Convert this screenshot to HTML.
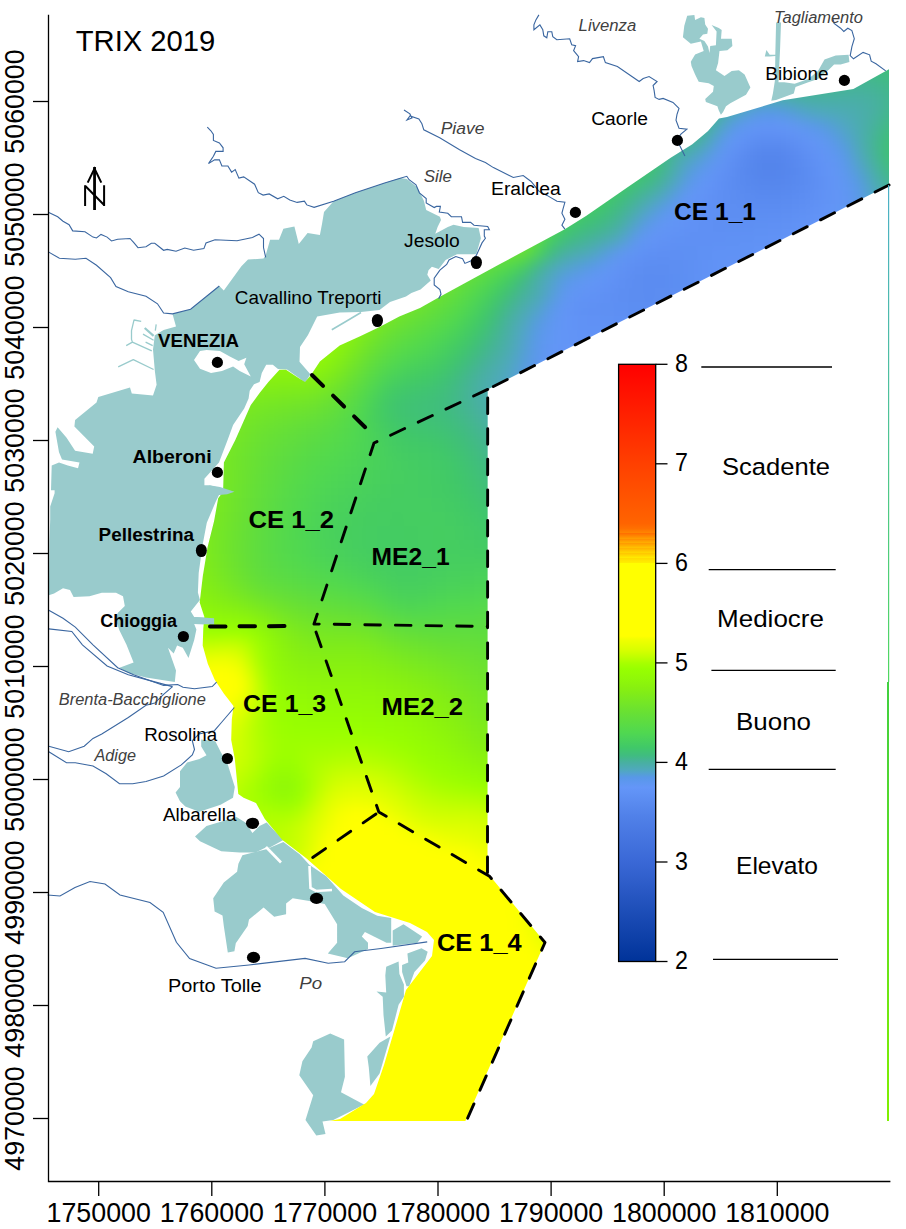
<!DOCTYPE html>
<html><head><meta charset="utf-8"><style>
html,body{margin:0;padding:0;background:#fff;}
body{width:906px;height:1229px;position:relative;overflow:hidden;font-family:"Liberation Sans",sans-serif;}
.L{position:absolute;left:0;top:0;}
svg text{font-family:"Liberation Sans",sans-serif;}
#seaclip{position:absolute;left:0;top:0;width:906px;height:1229px;clip-path:path('M311 375 L319.9 361.5 L339.7 345.6 L359.6 336.4 L379.5 327.1 L399.3 316.5 L420 307.9 L441.3 296 L500 264 L564.8 229.2 L586 216 L628.3 186.8 L670.7 157.7 L692 144.4 L707.8 131.2 L719 118.5 L727 116.9 L782.8 100.3 L853.4 89 L889 69.2 L889 185 L487.7 389.4 L487.5 873 L545 942.5 L465.4 1121 L330 1121 L340 1119 L366 1103 L374 1094 L384 1065 L395 1028 L406 990 L432 956 L434 940 L427 932 L410 923 L375 912 L341 889 L306 858 L282.4 840 L264.8 819 L256 803 L243.6 797.7 L238.3 794 L234.8 759 L231.2 740 L231.8 719.6 L233.5 705.9 L223.8 693.4 L214.7 679.7 L207.8 663.8 L202.7 645.6 L203.3 628.5 L204.4 617.1 L199.7 602.4 L202.8 576.3 L207.6 547 L214.1 521 L218.2 498.3 L223.1 491.8 L223.9 462.5 L235.3 440 L250.8 405.1 L259.6 393 L268.4 382 L279.5 369.8 L286 369.8 L299.3 378.6 L305 382 Z');}
#seaf{position:absolute;left:180px;top:50px;width:740px;height:1104px;filter:blur(7px);}
#seaf div{position:absolute;left:0;width:100%;}
</style></head><body>
<svg class="L" width="906" height="1229" viewBox="0 0 906 1229">
<g fill="#99cbcc">
<path fill-rule="evenodd" d="M172.5 314.1 L190.6 309.3 L219.3 286 L223.8 290.5 L241.4 266.2 L248 259.6 L263.5 258.5 L265.7 255.2 L270.1 239.7 L279 239.7 L283.4 228.7 L294.4 226.5 L298.8 244 L307.6 233 L319.9 235 L322 224 L324 212 L333.6 201.2 L355.4 192.7 L384.6 183 L400 178 L406.8 179.1 L417 187 L423.9 200.8 L426.2 209.9 L439.9 216.7 L441 220.1 L437.6 227 L435.3 233.8 L447.8 227 L453.5 224.7 L463.8 227 L478.6 228.1 L480.9 238.3 L476.3 254.3 L457 254.3 L445.6 260 L438.7 269.1 L431.9 266.8 L428.5 270.2 L427.3 274.8 L430.8 280.5 L420.5 289.6 L411.4 293 L406 296.6 L390 301.9 L379.5 309.9 L361 311.9 L339.7 312.5 L317.2 316.5 L308 335 L300 347 L299.5 361.8 L310.4 374.2 L305 382.7 L299 378 L287 369.5 L278 369 L272.8 364.8 L266.2 364.8 L261.8 373.1 L259.6 382 L254 384.2 L249.7 390.8 L248.6 398.5 L244.2 408.4 L233.1 425 L227.6 440 L219 462.5 L204.4 478.8 L204.4 485.3 L209.3 485.3 L234.5 491.8 L227.2 494.2 L219 495 L215.8 501.5 L206.8 522.7 L202.8 543.8 L198.7 573.1 L197.9 592.6 L199.9 600 L190.8 611.4 L194.2 617.1 L214.1 618.2 L214.1 624.5 L194.2 623.9 L196.4 629.6 L194.2 639.9 L188.5 658.1 L182.8 647.8 L177.1 645.6 L173.7 653.5 L168 647.8 L176 670.6 L174.8 682 L146 677.4 L128.3 673 L119.5 667.7 L133.6 662.4 L126.5 644.8 L119.5 630.6 L115.9 620 L117.7 613 L124.8 605.9 L123 596.2 L116 592.7 L101.8 592.7 L89.5 596.2 L73.6 597.1 L70 590 L63 588.3 L54.1 593.6 L48.8 595.3 L48.8 600 L49.5 540 L50.2 519.6 L50.2 506.4 L54.6 493.2 L54.6 490.3 L51 490.3 L51.7 465.4 L59 462.5 L67.8 465.4 L78 468.3 L79.5 462.5 L62 459.5 L59 452.2 L55.4 431.7 L57.6 427.3 L66.4 437.6 L75.1 450.7 L92.7 453.7 L94.2 446.4 L74.4 426.6 L75.1 420 L96.5 402.4 L98.3 397.1 L130 387.4 L131.8 393.6 L153 395.4 L156.6 384.8 L154.8 370.6 L153 349.4 L154.8 335.3 L163.6 330 L176 326.5 Z M200 351 L206.6 350 L219.9 351 L229.8 356.6 L238.6 361 L246.4 357.7 L244.2 364.3 L250.8 376.4 L239.7 371 L233.1 366.5 L222 371 L211 373.1 L200 368.7 L194 360 Z"/>
<path d="M201.2 739.4 L215.3 741.2 L220.6 751.8 L227.7 764.2 L234.8 787.1 L233 797.7 L220.6 804.8 L199.4 811.8 L185.3 806.5 L180 801.2 L175.6 792.4 L180 787.1 L180 771.2 L187.1 762.4 L199.4 758.9 L206.5 755.3 L201.2 746.5 Z"/><path d="M195 836.6 L206.5 826 L224.2 820.7 L236.5 817.1 L245.4 822.4 L252.4 833 L259.5 826 L266.6 822.4 L283.4 840 L268.9 848 L266.2 847.3 L255.6 852.6 L239.7 852.6 L221.2 851.3 L200 841.3 Z"/>
<path d="M242.4 855.2 L266.2 849.3 L283.4 842 L300 854.6 L309.3 864.7 L326.3 876.3 L343.3 895.6 L361.8 908 L377.3 915.7 L391.2 918 L391.2 942.7 L386.5 942.7 L364.9 931.9 L361.8 936.5 L368 942.7 L368 948.9 L347.9 958.2 L327.8 953.5 L337.1 942.7 L337.1 924.2 L324.7 904.1 L309.3 901 L292.7 898.3 L286.1 903.6 L286.1 914.2 L274.2 916.8 L263.6 907.5 L249 919.5 L247.7 926 L235.8 943.3 L234.4 951.3 L227.8 952.6 L223.8 926 L222.5 915.5 L214.6 911.5 L213.2 898.3 L223.8 882.4 L237.1 871.8 L238.4 863.8 Z"/><path d="M392.7 930.4 L403.5 924.2 L422.1 936.5 L417.4 942.7 L392.7 945.8 Z"/><path d="M407.4 953.5 L421.5 948.2 L427.7 951.8 L425 960.6 L414.4 972.1 L409.2 986.2 L406.5 986.2 L402.1 972.1 L402.1 965 L408.3 962.4 Z"/><path d="M386.2 966.8 L398.6 961.5 L399.4 973.9 L403.9 984.4 L403.9 996.8 L398.6 1004.8 L392 1030.4 L385.8 1036.5 L383.5 1015 L382.7 996.8 L376.5 991.5 L386.2 992.4 L385.3 975.6 Z"/><path d="M330.2 1033.4 L344.1 1039.6 L344.9 1076.7 L341 1092.2 L361.1 1103 L364.2 1104.5 L351.8 1110.7 L333.3 1120 L322.5 1121.5 L325.5 1133.9 L316.3 1135.4 L305.5 1120 L313.2 1095.3 L299.3 1075.2 L302.4 1061.3 L311.6 1047.4 L313.2 1041.2 Z"/><path d="M390.4 1036.5 L379.6 1073.6 L370.4 1086 L368.8 1067.4 L367.3 1056.6 L379.6 1042.7 Z"/>
<path d="M687.2 15.8 L694.4 15.1 L695.1 20.1 L700.9 17.2 L704.4 17.9 L705.2 24.4 L708 28.7 L707.3 33.7 L703 34.4 L699.4 38.7 L704.4 40.9 L708 46.6 L709.5 53.1 L710.2 45.9 L715.9 45.2 L716.6 31.6 L711.6 25.1 L718.8 28 L721.7 30.1 L721 38.7 L731.7 38.7 L732.4 45.9 L727.4 50.2 L719.5 50.9 L718.1 63.1 L715.9 70.3 L724.5 76 L731.7 71 L738.9 70.3 L744.6 74.6 L750.4 87.5 L746 94.7 L730.3 103.3 L726 106.2 L723.1 111.9 L720.9 114.8 L718.8 110.5 L717.4 106.2 L705.9 101.9 L705.2 99 L713 91.8 L713.8 86.1 L708.7 83.2 L698.7 81.8 L695.1 74.6 L691.5 66 L690.8 61.7 L695.1 54.5 L703.7 50.9 L700.9 41.6 L690.8 43.8 L682.9 37.3 L684.3 25.8 Z"/><path d="M776.1 22.6 L781 22.6 L780.1 48.3 L778.5 82.2 L784.2 82.2 L794.6 83.8 L808.3 79 L818 70.9 L824.5 59.6 L835.7 55.6 L848.6 54.8 L849.4 62 L840.6 64.5 L834.1 64.5 L829.3 69.3 L818 79 L808.3 82.2 L795.5 87 L793.8 93.5 L776.1 99.9 L771.3 100.7 L772.9 93.5 L775 80 L775.3 56 L769.7 56.4 L764.8 56.4 L766.4 50 L769.7 54.8 L775.3 54.8 Z"/>
</g>
<g fill="none" stroke="#99cbcc" stroke-width="1.3" stroke-linejoin="round"><path d="M134.1 319.6 L131.5 330.6 L131.5 339.4 L132.4 342.1 L151.8 350.9 M134.1 320 L141.2 321.3 M132.4 342.1 L126.2 345.6 M143 334.1 L153.6 340.3 M145.6 342.1 L152.7 345.6 M118.2 366.8 L133.3 359.7 L153.6 369.5 M156.2 324.4 L155.3 330.6"/><path d="M144.7 328 L153.6 335.9" stroke-width="2.2"/></g>
<g fill="none" stroke="#fff" stroke-width="2.6"><path d="M266 847 L281 862.5"/><path d="M0 0"/><path d="M309.5 866 L310.5 888 L316 891 L332 890"/></g>
</svg>
<div id="seaclip"><div id="seaf">
<div style="top:0px;height:15px;background:linear-gradient(90deg,#ffee00 7px,#fff400 21px,#fffa00 35px,#ffff00 49px,#ffff00 63px,#ffff00 77px,#ffff00 91px,#ffff00 105px,#ffff00 119px,#ffff00 133px,#ffff00 147px,#ffff00 161px,#ffff00 175px,#ffff00 189px,#ffff00 203px,#ffff00 217px,#ffff00 231px,#ffff00 245px,#ffff00 259px,#ffff00 273px,#ffff00 287px,#ffff00 301px,#ffff00 315px,#eeff00 329px,#deff00 343px,#caff00 357px,#b0ff00 371px,#9bff00 385px,#93fb05 399px,#8ef60a 413px,#87f011 427px,#7feb1a 441px,#77e723 455px,#6fe32c 469px,#67e035 483px,#61de3d 497px,#5adb44 511px,#54d94b 525px,#4fd752 539px,#4bd358 553px,#48d05d 567px,#45cd60 581px,#43cb63 595px,#42ca65 609px,#41c967 623px,#40c769 637px,#40c56e 651px,#40c372 665px,#40c275 679px,#40c175 693px,#40c274 707px,#40c46f 721px,#40c869 735px)"></div>
<div style="top:14px;height:15px;background:linear-gradient(90deg,#fff900 7px,#fffe00 21px,#ffff00 35px,#ffff00 49px,#ffff00 63px,#ffff00 77px,#ffff00 91px,#ffff00 105px,#ffff00 119px,#ffff00 133px,#ffff00 147px,#ffff00 161px,#ffff00 175px,#ffff00 189px,#ffff00 203px,#ffff00 217px,#ffff00 231px,#ffff00 245px,#ffff00 259px,#ffff00 273px,#ffff00 287px,#ffff00 301px,#f8ff00 315px,#e5ff00 329px,#d4ff00 343px,#bbff00 357px,#a2ff00 371px,#95fd03 385px,#8ff709 399px,#89f10f 413px,#81ec18 427px,#78e822 441px,#70e42b 455px,#68e035 469px,#60dd3d 483px,#59db45 497px,#53d94d 511px,#4dd555 525px,#48d05d 539px,#43cb63 553px,#40c869 567px,#40c56f 581px,#40c372 595px,#40c274 609px,#40c175 623px,#40c078 637px,#40be7b 651px,#40bc7f 665px,#41bb83 679px,#41bb83 693px,#40bd7e 707px,#40c078 721px,#40c470 735px)"></div>
<div style="top:28px;height:15px;background:linear-gradient(90deg,#ffff00 7px,#ffff00 21px,#ffff00 35px,#ffff00 49px,#ffff00 63px,#ffff00 77px,#ffff00 91px,#ffff00 105px,#ffff00 119px,#ffff00 133px,#ffff00 147px,#ffff00 161px,#ffff00 175px,#ffff00 189px,#ffff00 203px,#ffff00 217px,#ffff00 231px,#ffff00 245px,#ffff00 259px,#ffff00 273px,#ffff00 287px,#ffff00 301px,#edff00 315px,#ddff00 329px,#c7ff00 343px,#abff00 357px,#97ff01 371px,#92f906 385px,#8bf30d 399px,#83ee15 413px,#7ae920 427px,#71e52a 441px,#68e034 455px,#61de3d 469px,#59db45 483px,#52d94e 497px,#4bd357 511px,#45cd60 525px,#40c869 539px,#40c176 553px,#40bc81 567px,#43b88b 581px,#43b78e 595px,#43b78c 609px,#42b889 623px,#43b88a 637px,#44b78e 651px,#45b593 665px,#45b496 679px,#45b494 693px,#43b88c 707px,#40bd7e 721px,#40c274 735px)"></div>
<div style="top:42px;height:15px;background:linear-gradient(90deg,#ffff00 7px,#ffff00 21px,#ffff00 35px,#ffff00 49px,#ffff00 63px,#ffff00 77px,#ffff00 91px,#ffff00 105px,#ffff00 119px,#ffff00 133px,#ffff00 147px,#ffff00 161px,#ffff00 175px,#ffff00 189px,#ffff00 203px,#ffff00 217px,#ffff00 231px,#ffff00 245px,#ffff00 259px,#ffff00 273px,#ffff00 287px,#f7ff00 301px,#e5ff00 315px,#d2ff00 329px,#b8ff00 343px,#9fff00 357px,#94fb04 371px,#8df50b 385px,#86ef12 399px,#7cea1d 413px,#73e628 427px,#6ae132 441px,#61de3c 455px,#59db45 469px,#52d94e 483px,#4bd357 497px,#45cd61 511px,#40c56d 525px,#40bc80 539px,#46b398 553px,#4aaea9 567px,#4dabb3 581px,#4dabb4 595px,#4cacae 609px,#49afa6 623px,#49afa3 637px,#49afa4 651px,#49afa5 665px,#49afa5 679px,#48b0a1 693px,#45b495 707px,#40bc81 721px,#40c274 735px)"></div>
<div style="top:56px;height:15px;background:linear-gradient(90deg,#ffff00 7px,#ffff00 21px,#ffff00 35px,#ffff00 49px,#ffff00 63px,#ffff00 77px,#ffff00 91px,#ffff00 105px,#ffff00 119px,#ffff00 133px,#ffff00 147px,#ffff00 161px,#ffff00 175px,#ffff00 189px,#ffff00 203px,#ffff00 217px,#ffff00 231px,#ffff00 245px,#ffff00 259px,#ffff00 273px,#ffff00 287px,#ecff00 301px,#dcff00 315px,#c5ff00 329px,#a8ff00 343px,#97fe01 357px,#90f808 371px,#89f10f 385px,#7fec1a 399px,#76e725 413px,#6ce230 427px,#63de3a 441px,#5adb44 455px,#52d94e 469px,#4bd358 483px,#45cd61 497px,#40c66c 511px,#40bc80 525px,#48b0a2 539px,#4fa9bc 553px,#559fd8 567px,#5898e9 581px,#5998e9 595px,#569be0 609px,#52a3cc 623px,#50a8c0 637px,#4eaaba 651px,#4dabb4 665px,#4badad 679px,#49afa4 693px,#45b592 707px,#40bd7e 721px,#40c471 735px)"></div>
<div style="top:70px;height:15px;background:linear-gradient(90deg,#ffff00 7px,#ffff00 21px,#ffff00 35px,#ffff00 49px,#ffff00 63px,#ffff00 77px,#ffff00 91px,#ffff00 105px,#ffff00 119px,#ffff00 133px,#ffff00 147px,#ffff00 161px,#ffff00 175px,#ffff00 189px,#ffff00 203px,#ffff00 217px,#ffff00 231px,#ffff00 245px,#ffff00 259px,#ffff00 273px,#f4ff00 287px,#e4ff00 301px,#d2ff00 315px,#b7ff00 329px,#9dff00 343px,#93fb05 357px,#8cf40c 371px,#83ed16 385px,#78e822 399px,#6ee32d 413px,#65df38 427px,#5cdc42 441px,#53d94c 455px,#4bd357 469px,#44cc62 483px,#40c56e 497px,#40be7c 511px,#46b398 525px,#4fa9bd 539px,#5998ea 553px,#6196f5 567px,#6394f7 581px,#6294f6 595px,#6496f8 609px,#5f97f1 623px,#5998ea 637px,#559ed9 651px,#51a7c3 665px,#4cacb1 679px,#47b19d 693px,#41ba86 707px,#40c176 721px,#40c76b 735px)"></div>
<div style="top:84px;height:15px;background:linear-gradient(90deg,#ffff00 7px,#ffff00 21px,#ffff00 35px,#ffff00 49px,#ffff00 63px,#ffff00 77px,#ffff00 91px,#ffff00 105px,#ffff00 119px,#ffff00 133px,#ffff00 147px,#ffff00 161px,#ffff00 175px,#ffff00 189px,#ffff00 203px,#ffff00 217px,#ffff00 231px,#ffff00 245px,#ffff00 259px,#fbff00 273px,#eaff00 287px,#dbff00 301px,#c5ff00 315px,#a7ff00 329px,#96fd02 343px,#8ff709 357px,#87ef11 371px,#7cea1e 385px,#71e42a 399px,#67e035 413px,#5edd40 427px,#55da4a 441px,#4dd554 455px,#45cd60 469px,#40c371 483px,#42ba86 497px,#45b496 511px,#4cacae 525px,#579ae4 539px,#6496f8 553px,#5e90f4 567px,#5b8cf1 581px,#5a8bf0 595px,#5d8ef2 609px,#6192f5 623px,#6396f6 637px,#5c97ed 651px,#549fd6 665px,#4dabb5 679px,#46b397 693px,#40be7b 707px,#40c56e 721px,#41c967 735px)"></div>
<div style="top:98px;height:15px;background:linear-gradient(90deg,#ffff00 7px,#ffff00 21px,#ffff00 35px,#ffff00 49px,#ffff00 63px,#ffff00 77px,#ffff00 91px,#ffff00 105px,#ffff00 119px,#ffff00 133px,#ffff00 147px,#ffff00 161px,#ffff00 175px,#ffff00 189px,#ffff00 203px,#ffff00 217px,#ffff00 231px,#ffff00 245px,#ffff00 259px,#eeff00 273px,#e1ff00 287px,#cfff00 301px,#b6ff00 315px,#9cff00 329px,#92fa06 343px,#8af20e 357px,#80ec1a 371px,#74e627 385px,#69e033 399px,#5fdd3e 413px,#57da48 427px,#4fd752 441px,#48d05c 455px,#40c867 469px,#40bc81 483px,#4aaea6 497px,#4eaab8 511px,#559ed9 525px,#6097f3 539px,#5f90f4 553px,#598aef 567px,#5586ec 581px,#5485eb 595px,#5888ee 609px,#5c8df2 623px,#6192f5 637px,#6196f5 651px,#5998e9 665px,#50a8be 679px,#47b29b 693px,#40bf79 707px,#40c66c 721px,#41c966 735px)"></div>
<div style="top:112px;height:15px;background:linear-gradient(90deg,#ffff00 7px,#ffff00 21px,#ffff00 35px,#ffff00 49px,#ffff00 63px,#ffff00 77px,#ffff00 91px,#ffff00 105px,#ffff00 119px,#ffff00 133px,#ffff00 147px,#ffff00 161px,#ffff00 175px,#ffff00 189px,#ffff00 203px,#ffff00 217px,#ffff00 231px,#feff00 245px,#eeff00 259px,#e3ff00 273px,#d6ff00 287px,#c2ff00 301px,#a7ff00 315px,#96fd02 329px,#8ff709 343px,#85ee14 357px,#78e822 371px,#6be230 385px,#61de3d 399px,#57da47 413px,#4fd751 427px,#48d05b 441px,#42ca65 455px,#40c372 469px,#43b88b 483px,#4dabb4 497px,#559ddb 511px,#5e97f0 525px,#6293f6 539px,#5c8df1 553px,#5788ee 567px,#5484eb 581px,#5384eb 595px,#5686ed 609px,#5a8bf0 623px,#5e90f4 637px,#6395f7 651px,#5d97ef 665px,#53a1d1 679px,#4aaea9 693px,#42ba86 707px,#40c273 721px,#40c869 735px)"></div>
<div style="top:126px;height:15px;background:linear-gradient(90deg,#ffff00 7px,#ffff00 21px,#ffff00 35px,#ffff00 49px,#ffff00 63px,#ffff00 77px,#ffff00 91px,#ffff00 105px,#ffff00 119px,#ffff00 133px,#ffff00 147px,#ffff00 161px,#ffff00 175px,#ffff00 189px,#ffff00 203px,#ffff00 217px,#faff00 231px,#ecff00 245px,#e2ff00 259px,#d7ff00 273px,#c6ff00 287px,#b0ff00 301px,#9cff00 315px,#93fa05 329px,#8af20e 343px,#7eeb1c 357px,#6fe42c 371px,#62de3a 385px,#58db47 399px,#4fd752 413px,#48d05c 427px,#42ca66 441px,#40c275 455px,#42ba86 469px,#49afa2 483px,#52a4ca 497px,#5c97ee 511px,#6395f8 525px,#5f90f4 539px,#5b8cf1 553px,#5889ee 567px,#5687ed 581px,#5686ec 595px,#5788ee 609px,#5a8bf0 623px,#5e8ff3 637px,#6294f6 651px,#6097f3 665px,#5799e5 679px,#4eaab9 693px,#47b29a 707px,#40bd7e 721px,#40c471 735px)"></div>
<div style="top:140px;height:15px;background:linear-gradient(90deg,#ffff00 7px,#ffff00 21px,#ffff00 35px,#ffff00 49px,#ffff00 63px,#ffff00 77px,#ffff00 91px,#ffff00 105px,#ffff00 119px,#ffff00 133px,#ffff00 147px,#ffff00 161px,#ffff00 175px,#ffff00 189px,#ffff00 203px,#f3ff00 217px,#e8ff00 231px,#deff00 245px,#d2ff00 259px,#c3ff00 273px,#b1ff00 287px,#a0ff00 301px,#96fd02 315px,#8ff709 329px,#85ef13 343px,#76e724 357px,#66df36 371px,#59db46 385px,#4ed653 399px,#47cf5e 413px,#41c967 427px,#40c077 441px,#44b68f 455px,#4aaeaa 469px,#51a6c5 483px,#5a98eb 497px,#6496f8 511px,#6192f5 525px,#5e8ff3 539px,#5c8df1 553px,#5a8bf0 567px,#598af0 581px,#598aef 595px,#5a8bf0 609px,#5c8df2 623px,#5f90f4 637px,#6294f6 651px,#6296f5 665px,#5a98ea 679px,#51a6c6 693px,#4aaea8 707px,#43b78d 721px,#40bf79 735px)"></div>
<div style="top:154px;height:15px;background:linear-gradient(90deg,#ffff00 7px,#ffff00 21px,#ffff00 35px,#ffff00 49px,#ffff00 63px,#ffff00 77px,#ffff00 91px,#ffff00 105px,#ffff00 119px,#ffff00 133px,#ffff00 147px,#ffff00 161px,#ffff00 175px,#faff00 189px,#ecff00 203px,#e2ff00 217px,#d8ff00 231px,#c9ff00 245px,#b9ff00 259px,#a8ff00 273px,#9dff00 287px,#96fd02 301px,#91f907 315px,#8bf30d 329px,#7fec1a 343px,#6ee32d 357px,#5cdc42 371px,#4ed653 385px,#45cd60 399px,#40c76a 413px,#40c078 427px,#43b78d 441px,#4badac 455px,#53a3cd 469px,#5a98eb 483px,#6296f5 497px,#6193f6 511px,#5f91f4 525px,#5d8ff3 539px,#5d8ef2 553px,#5c8df2 567px,#5c8df2 581px,#5c8df2 595px,#5d8ef2 609px,#5f90f4 623px,#6192f5 637px,#6395f7 651px,#6097f3 665px,#5a98ea 679px,#53a3cd 693px,#4cacb0 707px,#46b398 721px,#40bc81 735px)"></div>
<div style="top:168px;height:15px;background:linear-gradient(90deg,#ffff00 7px,#ffff00 21px,#ffff00 35px,#ffff00 49px,#ffff00 63px,#ffff00 77px,#ffff00 91px,#ffff00 105px,#ffff00 119px,#ffff00 133px,#ffff00 147px,#ffff00 161px,#f3ff00 175px,#e7ff00 189px,#ddff00 203px,#cfff00 217px,#bfff00 231px,#acff00 245px,#9fff00 259px,#96fe02 273px,#93fb05 287px,#90f808 301px,#8cf40c 315px,#86ef12 329px,#7ae920 343px,#66df37 357px,#51d84f 371px,#43cb63 385px,#40c372 399px,#40bd7e 413px,#43b78d 427px,#49afa4 441px,#52a3cc 455px,#5c97ed 469px,#6396f6 483px,#6294f6 497px,#6091f5 511px,#5f90f4 525px,#5e8ff3 539px,#5e8ff3 553px,#5e8ff3 567px,#5e90f3 581px,#5f90f4 595px,#6091f4 609px,#6193f6 623px,#6394f7 637px,#6396f7 651px,#5f97f1 665px,#5998e9 679px,#53a2ce 693px,#4dabb4 707px,#48b09f 721px,#42b889 735px)"></div>
<div style="top:182px;height:15px;background:linear-gradient(90deg,#ffff00 7px,#ffff00 21px,#ffff00 35px,#ffff00 49px,#ffff00 63px,#ffff00 77px,#ffff00 91px,#ffff00 105px,#ffff00 119px,#ffff00 133px,#fcff00 147px,#eeff00 161px,#e3ff00 175px,#d7ff00 189px,#c6ff00 203px,#b3ff00 217px,#a2ff00 231px,#97fe01 245px,#93fb05 259px,#8ff709 273px,#8bf30d 287px,#86ef12 301px,#81ed18 315px,#7dea1d 329px,#74e627 343px,#5cdc42 357px,#45cd60 371px,#40bf7b 385px,#43b88c 399px,#47b19d 413px,#4badac 427px,#51a6c5 441px,#5d97ee 455px,#6395f7 469px,#6192f5 483px,#5f91f4 497px,#5f90f4 511px,#5f90f4 525px,#5f90f4 539px,#5f91f4 553px,#5f91f4 567px,#6092f5 581px,#6192f5 595px,#6293f6 609px,#6395f7 623px,#6396f7 637px,#6097f3 651px,#5c97ee 665px,#5899e6 679px,#53a3cd 693px,#4dabb6 707px,#49afa3 721px,#44b690 735px)"></div>
<div style="top:196px;height:15px;background:linear-gradient(90deg,#ffff00 7px,#ffff00 21px,#ffff00 35px,#ffff00 49px,#ffff00 63px,#ffff00 77px,#ffff00 91px,#ffff00 105px,#ffff00 119px,#f7ff00 133px,#eaff00 147px,#dfff00 161px,#d1ff00 175px,#bfff00 189px,#aaff00 203px,#9bff00 217px,#94fc04 231px,#90f808 245px,#8bf30d 259px,#85ee14 273px,#7deb1c 287px,#76e724 301px,#6fe42c 315px,#6ae132 329px,#68e034 343px,#4dd554 357px,#40bc81 371px,#49afa3 385px,#4cacb0 399px,#50a8bf 413px,#569cde 427px,#6097f2 441px,#6193f6 455px,#5e90f4 469px,#5e8ff3 483px,#5e8ff3 497px,#5e90f3 511px,#5f91f4 525px,#6092f5 539px,#6092f5 553px,#6193f6 567px,#6293f6 581px,#6294f7 595px,#6395f7 609px,#6396f7 623px,#6197f4 637px,#5e97f0 651px,#5a98eb 665px,#569be0 679px,#52a4c9 693px,#4dabb6 707px,#49afa5 721px,#45b594 735px)"></div>
<div style="top:210px;height:15px;background:linear-gradient(90deg,#ffff00 7px,#ffff00 21px,#ffff00 35px,#ffff00 49px,#ffff00 63px,#ffff00 77px,#ffff00 91px,#fbff00 105px,#f0ff00 119px,#e7ff00 133px,#ddff00 147px,#ceff00 161px,#baff00 175px,#a4ff00 189px,#97fe01 203px,#92fa06 217px,#8df50b 231px,#88f010 245px,#80ec19 259px,#78e822 273px,#6fe32d 287px,#65df37 301px,#5cdc42 315px,#52d94e 329px,#47cf5d 343px,#43b88c 357px,#4cacb2 371px,#52a5c9 385px,#559ed9 399px,#5998ea 413px,#6197f4 427px,#6192f5 441px,#5d8ef2 455px,#5c8df1 469px,#5c8df1 483px,#5d8ef2 497px,#5e90f3 511px,#6091f5 525px,#6193f6 539px,#6293f6 553px,#6294f7 567px,#6395f7 581px,#6496f8 595px,#6396f6 609px,#6197f4 623px,#5f97f1 637px,#5c97ed 651px,#5998e9 665px,#559ed9 679px,#51a6c5 693px,#4dabb5 707px,#4aaea6 721px,#46b397 735px)"></div>
<div style="top:224px;height:15px;background:linear-gradient(90deg,#ffff00 7px,#ffff00 21px,#ffff00 35px,#ffff00 49px,#feff00 63px,#f8ff00 77px,#f0ff00 91px,#ebff00 105px,#e4ff00 119px,#daff00 133px,#ccff00 147px,#b7ff00 161px,#a2ff00 175px,#96fd02 189px,#91f907 203px,#8bf30d 217px,#85ee14 231px,#7dea1d 245px,#74e626 259px,#6be230 273px,#61de3c 287px,#57da48 301px,#4dd555 315px,#42ca65 329px,#41ba84 343px,#4badac 357px,#51a5c7 371px,#5998ea 385px,#5f97f1 399px,#6396f7 413px,#6193f6 427px,#5e8ff3 441px,#5c8df1 455px,#5b8cf1 469px,#5b8cf1 483px,#5c8ef2 497px,#5e90f3 511px,#6092f5 525px,#6293f6 539px,#6294f7 553px,#6395f7 567px,#6496f8 581px,#6296f6 595px,#6197f4 609px,#5f97f1 623px,#5d97ee 637px,#5a98eb 651px,#579ae3 665px,#54a0d3 679px,#50a7c1 693px,#4dabb4 707px,#4aaea6 721px,#46b398 735px)"></div>
<div style="top:238px;height:15px;background:linear-gradient(90deg,#ffff00 7px,#fbff00 21px,#f4ff00 35px,#eeff00 49px,#ebff00 63px,#e7ff00 77px,#e3ff00 91px,#deff00 105px,#d7ff00 119px,#caff00 133px,#b8ff00 147px,#a2ff00 161px,#96fd02 175px,#90f808 189px,#8af20e 203px,#82ed17 217px,#7ae920 231px,#72e529 245px,#6ae132 259px,#61de3c 273px,#57da48 287px,#4dd555 301px,#43cb64 315px,#40be7b 329px,#47b29c 343px,#4cacb0 357px,#54a0d5 371px,#6097f3 385px,#6294f6 399px,#6092f5 413px,#5f90f4 427px,#5d8ef2 441px,#5c8df1 455px,#5b8cf1 469px,#5c8df1 483px,#5d8ef2 497px,#5e90f4 511px,#6092f5 525px,#6294f6 539px,#6395f7 553px,#6496f8 567px,#6296f6 581px,#6197f4 595px,#5f97f1 609px,#5d97ef 623px,#5b98ec 637px,#5898e8 651px,#569ddc 665px,#53a3cd 679px,#50a8be 693px,#4dabb2 707px,#4aaea6 721px,#46b399 735px)"></div>
<div style="top:252px;height:15px;background:linear-gradient(90deg,#edff00 7px,#e8ff00 21px,#e3ff00 35px,#dfff00 49px,#dcff00 63px,#d8ff00 77px,#d4ff00 91px,#ceff00 105px,#c5ff00 119px,#b7ff00 133px,#a4ff00 147px,#96fe02 161px,#90f808 175px,#89f10f 189px,#80ec19 203px,#77e723 217px,#6fe32c 231px,#68e035 245px,#60dd3d 259px,#58db46 273px,#4fd752 287px,#46ce60 301px,#40c273 315px,#45b593 329px,#4cacae 343px,#51a5c7 357px,#5a98eb 371px,#6395f7 385px,#5f91f4 399px,#5f90f4 413px,#5e90f3 427px,#5d8ff3 441px,#5c8ef2 455px,#5c8df2 469px,#5c8ef2 483px,#5e8ff3 497px,#5f91f4 511px,#6192f5 525px,#6294f6 539px,#6395f7 553px,#6396f7 567px,#6196f4 581px,#5f97f2 595px,#5e97ef 609px,#5b97ed 623px,#5998ea 637px,#579ae3 651px,#549fd6 665px,#52a5c8 679px,#4fa9bb 693px,#4cacb0 707px,#49afa5 721px,#46b299 735px)"></div>
<div style="top:266px;height:15px;background:linear-gradient(90deg,#dfff00 7px,#d9ff00 21px,#d2ff00 35px,#cbff00 49px,#c7ff00 63px,#c2ff00 77px,#bfff00 91px,#baff00 105px,#b2ff00 119px,#a5ff00 133px,#98ff00 147px,#92fa06 161px,#8af20e 175px,#80ec19 189px,#75e626 203px,#6ce230 217px,#65df38 231px,#5edd3f 245px,#58db47 259px,#50d850 273px,#48d05c 287px,#40c869 301px,#40bb82 315px,#49afa4 329px,#4fa9bd 343px,#569be0 357px,#5f97f1 371px,#6395f7 385px,#6092f5 399px,#6091f5 413px,#6091f4 427px,#5f90f4 441px,#5e8ff3 455px,#5d8ff3 469px,#5e8ff3 483px,#5f90f4 497px,#6091f5 511px,#6193f6 525px,#6394f7 539px,#6496f8 553px,#6296f6 567px,#6097f3 581px,#5e97f0 595px,#5c97ee 609px,#5a98eb 623px,#5898e8 637px,#569ddc 651px,#53a2d0 665px,#51a7c3 679px,#4eaab9 693px,#4cacaf 707px,#49afa4 721px,#46b399 735px)"></div>
<div style="top:280px;height:15px;background:linear-gradient(90deg,#ccff00 7px,#c3ff00 21px,#baff00 35px,#b1ff00 49px,#abff00 63px,#a7ff00 77px,#a5ff00 91px,#a3ff00 105px,#a0ff00 119px,#98ff00 133px,#94fb04 147px,#8df50b 161px,#83ed16 175px,#76e724 189px,#6ae132 203px,#62de3c 217px,#5bdc43 231px,#55da4a 245px,#4fd751 259px,#49d15a 273px,#42ca65 287px,#40c177 301px,#44b690 315px,#4badab 329px,#52a5c8 343px,#5998ea 357px,#6197f4 371px,#6395f7 385px,#6193f6 399px,#6193f6 413px,#6193f5 427px,#6092f5 441px,#5f91f4 455px,#5f90f4 469px,#5f91f4 483px,#6091f5 497px,#6192f5 511px,#6294f6 525px,#6395f7 539px,#6396f7 553px,#6196f4 567px,#5f97f1 581px,#5d97ef 595px,#5b98ec 609px,#5998e9 623px,#579be2 637px,#559fd7 651px,#52a4cb 665px,#50a8bf 679px,#4dabb6 693px,#4badad 707px,#49afa3 721px,#46b399 735px)"></div>
<div style="top:294px;height:15px;background:linear-gradient(90deg,#b6ff00 7px,#a9ff00 21px,#a1ff00 35px,#9bff00 49px,#97ff01 63px,#97fe01 77px,#96fd02 91px,#96fd02 105px,#96fd02 119px,#94fb04 133px,#90f808 147px,#88f010 161px,#7ae920 175px,#6ce22f 189px,#61de3d 203px,#58db47 217px,#52d94d 231px,#4ed653 245px,#49d15b 259px,#43cb64 273px,#40c372 287px,#41ba85 301px,#47b19d 315px,#4cacb1 329px,#53a1d1 343px,#5c97ed 357px,#6296f5 371px,#6395f7 385px,#6294f6 399px,#6294f6 413px,#6193f6 427px,#6193f6 441px,#6092f5 455px,#6092f5 469px,#6092f5 483px,#6193f6 497px,#6294f6 511px,#6395f7 525px,#6496f8 539px,#6296f5 553px,#6097f3 567px,#5e97f0 581px,#5c97ed 595px,#5a98ea 609px,#5899e6 623px,#569ddc 637px,#53a1d1 651px,#51a6c6 665px,#4fa9bc 679px,#4dabb3 693px,#4badaa 707px,#48b0a2 721px,#46b398 735px)"></div>
<div style="top:308px;height:15px;background:linear-gradient(90deg,#a2ff00 7px,#98ff00 21px,#95fd03 35px,#93fb05 49px,#91f907 63px,#90f808 77px,#8ff709 91px,#8ff709 105px,#8ff709 119px,#8ff709 133px,#8af20e 147px,#7feb1b 161px,#70e42b 175px,#62de3b 189px,#57da48 203px,#4fd752 217px,#4ad259 231px,#47cf5d 245px,#43cb63 259px,#40c46f 273px,#40bc80 287px,#46b397 301px,#4badaa 315px,#4fa9bd 329px,#569ddc 343px,#5d97ee 357px,#6296f5 371px,#6496f8 385px,#6395f7 399px,#6294f7 413px,#6294f6 427px,#6294f6 441px,#6293f6 455px,#6293f6 469px,#6293f6 483px,#6294f7 497px,#6395f7 511px,#6496f8 525px,#6296f6 539px,#6197f3 553px,#5f97f1 567px,#5d97ee 581px,#5b98eb 595px,#5898e9 609px,#569be0 623px,#549fd6 637px,#52a3cc 651px,#50a8c1 665px,#4eaab9 679px,#4cacb1 693px,#4aaea8 707px,#48b0a0 721px,#46b496 735px)"></div>
<div style="top:322px;height:15px;background:linear-gradient(90deg,#97fe01 7px,#93fb05 21px,#90f808 35px,#8df50b 49px,#8bf30d 63px,#89f10f 77px,#88f010 91px,#87f011 105px,#87f011 119px,#85ef13 133px,#7feb1a 147px,#74e627 161px,#66df37 175px,#58db46 189px,#4dd554 203px,#47cf5e 217px,#43cb63 231px,#41c967 245px,#40c56f 259px,#40be7c 273px,#44b690 287px,#49afa5 301px,#4dabb4 315px,#51a6c6 329px,#579be1 343px,#5c97ed 357px,#6097f3 371px,#6396f7 385px,#6496f8 399px,#6395f7 413px,#6395f7 427px,#6395f7 441px,#6395f7 455px,#6395f7 469px,#6395f7 483px,#6395f8 497px,#6496f8 511px,#6296f6 525px,#6197f4 539px,#5f97f1 553px,#5d97ef 567px,#5b97ec 581px,#5998ea 595px,#579ae4 609px,#559dda 623px,#53a1d0 637px,#51a6c6 651px,#4fa9bd 665px,#4dabb5 679px,#4badae 693px,#49afa6 707px,#47b19e 721px,#45b495 735px)"></div>
<div style="top:336px;height:15px;background:linear-gradient(90deg,#93fa05 7px,#8ff709 21px,#8bf30d 35px,#87ef11 49px,#82ed16 63px,#7fec1a 77px,#7eeb1c 91px,#7cea1d 105px,#7bea1f 119px,#78e822 133px,#72e529 147px,#68e034 161px,#5cdc41 175px,#50d850 189px,#46ce60 203px,#40c869 217px,#40c56f 231px,#40c373 245px,#40c079 259px,#41bb84 273px,#45b496 287px,#4aaea7 301px,#4dabb6 315px,#51a5c7 329px,#569cde 343px,#5a98eb 357px,#5e97f0 371px,#6197f4 385px,#6296f6 399px,#6396f7 413px,#6496f8 427px,#6496f8 441px,#6496f8 455px,#6496f8 469px,#6496f7 483px,#6396f6 497px,#6296f5 511px,#6097f3 525px,#5f97f1 539px,#5d97ef 553px,#5b97ed 567px,#5a98ea 581px,#5899e6 595px,#569cdd 609px,#54a0d4 623px,#52a4ca 637px,#50a8c1 651px,#4eaab9 665px,#4dabb2 679px,#4badab 693px,#49afa3 707px,#47b29b 721px,#45b593 735px)"></div>
<div style="top:350px;height:15px;background:linear-gradient(90deg,#8ff709 7px,#8bf30d 21px,#86ef12 35px,#80ec19 49px,#7be91f 63px,#77e823 77px,#74e626 91px,#72e528 105px,#70e42b 119px,#6de22f 133px,#67e035 147px,#60dd3e 161px,#56da49 175px,#4bd357 189px,#42ca65 203px,#40c470 217px,#40c175 231px,#40c078 245px,#40be7c 259px,#41ba85 273px,#45b593 287px,#49afa3 301px,#4cacb1 315px,#50a8c0 329px,#549fd5 343px,#5898e8 357px,#5c97ed 371px,#5e97f0 385px,#6097f2 399px,#6197f4 413px,#6196f5 427px,#6296f5 441px,#6296f5 455px,#6296f5 469px,#6196f4 483px,#6097f3 497px,#5f97f2 511px,#5e97f0 525px,#5d97ee 539px,#5b97ec 553px,#5a98ea 567px,#5898e7 581px,#569cdf 595px,#549fd6 609px,#53a3cd 623px,#51a6c4 637px,#4fa9bc 651px,#4dabb6 665px,#4cacaf 679px,#4aaea8 693px,#48b0a1 707px,#46b399 721px,#44b691 735px)"></div>
<div style="top:364px;height:15px;background:linear-gradient(90deg,#8cf40c 7px,#88f010 21px,#81ed17 35px,#7bea1f 49px,#75e725 63px,#71e42a 77px,#6de32e 91px,#6ae132 105px,#67e035 119px,#64df39 133px,#5fdd3e 147px,#59db45 161px,#52d94e 175px,#4ad258 189px,#43cb63 203px,#40c66c 217px,#40c372 231px,#40c275 245px,#40c078 259px,#40bd7f 273px,#43b88b 287px,#47b29a 301px,#4aaea9 315px,#4eaab8 329px,#52a4c9 343px,#559ddb 357px,#5898e9 371px,#5b98ec 385px,#5d97ee 399px,#5e97f0 413px,#5f97f1 427px,#5f97f1 441px,#5f97f1 455px,#5f97f1 469px,#5e97f1 483px,#5e97f0 497px,#5d97ef 511px,#5c97ed 525px,#5b98eb 539px,#5998ea 553px,#5899e6 567px,#569cdf 581px,#559fd7 595px,#53a2ce 609px,#51a6c6 623px,#50a8be 637px,#4eaab8 651px,#4cacb1 665px,#4badab 679px,#49afa4 693px,#47b19e 707px,#45b496 721px,#44b78e 735px)"></div>
<div style="top:378px;height:15px;background:linear-gradient(90deg,#8af20e 7px,#85ee14 21px,#7eeb1b 35px,#78e822 49px,#72e529 63px,#6ce22f 77px,#68e034 91px,#64df39 105px,#60dd3d 119px,#5ddc41 133px,#59db45 147px,#55da4a 161px,#50d850 175px,#4bd357 189px,#46ce5f 203px,#42ca65 217px,#40c769 231px,#40c66d 245px,#40c471 259px,#40c077 273px,#40bc80 287px,#44b690 301px,#48b0a0 315px,#4cacaf 329px,#4fa9bc 343px,#52a3cc 357px,#559dda 371px,#5899e6 385px,#5998ea 399px,#5b98ec 413px,#5b97ed 427px,#5c97ed 441px,#5c97ed 455px,#5c97ed 469px,#5c97ed 483px,#5b97ec 497px,#5a98eb 511px,#5998ea 525px,#5898e8 539px,#579ae3 553px,#569ddd 567px,#549fd6 581px,#53a2ce 595px,#51a5c6 609px,#50a8bf 623px,#4eaab9 637px,#4dabb3 651px,#4badad 665px,#4aaea7 679px,#48b0a1 693px,#46b29a 707px,#45b593 721px,#43b88c 735px)"></div>
<div style="top:392px;height:15px;background:linear-gradient(90deg,#89f10f 7px,#83ed16 21px,#7cea1d 35px,#75e725 49px,#6fe42c 63px,#69e133 77px,#64df39 91px,#60dd3e 105px,#5cdc42 119px,#58db46 133px,#55da4a 147px,#52d94e 161px,#4fd752 175px,#4bd357 189px,#48d05d 203px,#44cc62 217px,#42ca65 231px,#41c966 245px,#40c868 259px,#40c470 273px,#40bf79 287px,#41ba86 301px,#46b496 315px,#49afa5 329px,#4cacb2 343px,#4fa9bd 357px,#52a4ca 371px,#54a0d5 385px,#569cde 399px,#579ae4 413px,#5898e8 427px,#5998e9 441px,#5998e9 455px,#5998e9 469px,#5998e9 483px,#5898e8 497px,#5899e6 511px,#579ae2 525px,#569cde 539px,#559ed8 553px,#54a1d2 567px,#52a3cc 581px,#51a6c5 595px,#50a8be 609px,#4eaab9 623px,#4dabb4 637px,#4cacae 651px,#4aaea9 665px,#49afa3 679px,#47b19d 693px,#45b496 707px,#44b68f 721px,#42b989 735px)"></div>
<div style="top:406px;height:15px;background:linear-gradient(90deg,#88f010 7px,#81ed17 21px,#7be91f 35px,#74e626 49px,#6de32e 63px,#67e035 77px,#61de3c 91px,#5ddc41 105px,#58db46 119px,#55da4a 133px,#52d94e 147px,#4fd751 161px,#4dd555 175px,#4ad258 189px,#48d05c 203px,#46ce60 217px,#44cc62 231px,#43cb64 245px,#42ca66 259px,#40c76a 273px,#40c274 287px,#40bd7e 301px,#43b78c 315px,#47b29b 329px,#4aaea7 343px,#4cacb2 357px,#4fa9bb 371px,#51a7c4 385px,#52a3cc 399px,#54a0d3 413px,#559ed8 427px,#559ddb 441px,#569cdd 455px,#569cdd 469px,#569cdd 483px,#559ddb 497px,#559ed9 511px,#549fd5 525px,#53a1d1 539px,#53a3cd 553px,#51a5c7 567px,#50a7c1 581px,#4fa9bd 595px,#4eaab8 609px,#4dabb3 623px,#4cacae 637px,#4aaea9 651px,#49afa4 665px,#48b19e 679px,#46b398 693px,#44b592 707px,#43b88b 721px,#41ba85 735px)"></div>
<div style="top:420px;height:15px;background:linear-gradient(90deg,#87ef11 7px,#81ec18 21px,#7ae91f 35px,#73e627 49px,#6ce22f 63px,#65df37 77px,#5fdd3e 91px,#5adb44 105px,#56da49 119px,#52d94e 133px,#4fd751 147px,#4dd555 161px,#4bd358 175px,#49d15a 189px,#47cf5d 203px,#46ce5f 217px,#45cd61 231px,#44cc62 245px,#43cb64 259px,#40c867 273px,#40c46f 287px,#40c079 301px,#41bb83 315px,#44b690 329px,#47b19c 343px,#4aaea6 357px,#4cacaf 371px,#4eaab6 385px,#4fa9bc 399px,#50a8c1 413px,#51a5c6 427px,#52a4ca 441px,#52a3cc 455px,#53a3cd 469px,#53a3cd 483px,#53a3cd 497px,#52a4cb 511px,#52a5c8 525px,#51a6c4 539px,#50a8c0 553px,#4fa9bd 567px,#4eaab9 581px,#4dabb5 595px,#4cacb1 609px,#4badad 623px,#4aaea8 637px,#49afa4 651px,#48b19e 665px,#46b399 679px,#45b593 693px,#43b78d 707px,#42b987 721px,#40bb82 735px)"></div>
<div style="top:434px;height:15px;background:linear-gradient(90deg,#86ef12 7px,#80ec19 21px,#7ae920 35px,#73e628 49px,#6be230 63px,#64df39 77px,#5edd40 91px,#58db47 105px,#53d94c 119px,#50d851 133px,#4dd555 147px,#4bd358 161px,#49d15a 175px,#48d05d 189px,#46ce5e 203px,#45cd60 217px,#45cd61 231px,#44cc62 245px,#43cb63 259px,#41c966 273px,#40c66b 287px,#40c274 301px,#40be7c 315px,#41ba85 329px,#44b690 343px,#47b29a 357px,#49afa3 371px,#4aaeaa 385px,#4cacaf 399px,#4dabb4 413px,#4eaab8 427px,#4fa9bb 441px,#4fa9bd 455px,#4fa9be 469px,#50a8be 483px,#50a8be 497px,#4fa9bd 511px,#4fa9bc 525px,#4eaaba 539px,#4eaab7 553px,#4dabb5 567px,#4cacb1 581px,#4badae 595px,#4badaa 609px,#4aaea6 623px,#49afa2 637px,#47b19d 651px,#46b398 665px,#45b593 679px,#43b78e 693px,#42b988 707px,#41bb83 721px,#40bd7e 735px)"></div>
<div style="top:448px;height:15px;background:linear-gradient(90deg,#86ef12 7px,#80ec19 21px,#79e920 35px,#72e529 49px,#6ae132 63px,#63de3a 77px,#5cdc42 91px,#56da49 105px,#52d94e 119px,#4ed653 133px,#4bd357 147px,#49d15a 161px,#48d05d 175px,#46ce5f 189px,#45cd60 203px,#45cd61 217px,#45cd61 231px,#45cd61 245px,#44cc62 259px,#43cb64 273px,#40c867 287px,#40c56e 301px,#40c175 315px,#40be7c 329px,#41bb84 343px,#43b78d 357px,#45b495 371px,#47b19c 385px,#49afa2 399px,#4aaea7 413px,#4badab 427px,#4cacae 441px,#4cacb0 455px,#4cacb2 469px,#4dabb3 483px,#4dabb3 497px,#4dabb3 511px,#4cacb2 525px,#4cacb0 539px,#4cacae 553px,#4badac 567px,#4aaea9 581px,#4aaea6 595px,#49afa3 609px,#48b09f 623px,#47b29b 637px,#46b496 651px,#44b592 665px,#43b78d 679px,#42b988 693px,#41bb83 707px,#40bd7f 721px,#40be7c 735px)"></div>
<div style="top:462px;height:15px;background:linear-gradient(90deg,#85ef13 7px,#7fec1a 21px,#78e822 35px,#71e42a 49px,#69e033 63px,#61de3c 77px,#5adb44 91px,#55da4a 105px,#50d850 119px,#4dd555 133px,#4ad259 147px,#48d05c 161px,#46ce5e 175px,#45cd60 189px,#45cd61 203px,#44cc61 217px,#45cd61 231px,#45cd60 245px,#45cd61 259px,#44cc62 273px,#42ca65 287px,#40c869 301px,#40c56f 315px,#40c275 329px,#40bf7a 343px,#40bc7f 357px,#42ba86 371px,#43b78d 385px,#45b593 399px,#46b399 413px,#47b19d 427px,#48b0a1 441px,#49afa4 455px,#49afa6 469px,#4aaea7 483px,#4aaea8 497px,#4aaea8 511px,#4aaea7 525px,#4aaea6 539px,#49afa5 553px,#49afa3 567px,#48b0a1 581px,#47b19e 595px,#47b29a 609px,#46b397 623px,#45b593 637px,#44b68f 651px,#43b88b 665px,#42b987 679px,#41bb82 693px,#40bd7f 707px,#40be7c 721px,#40c079 735px)"></div>
<div style="top:476px;height:15px;background:linear-gradient(90deg,#85ef13 7px,#7feb1b 21px,#77e823 35px,#6fe42c 49px,#67e035 63px,#60dd3e 77px,#59db45 91px,#54d94c 105px,#4fd751 119px,#4cd456 133px,#4ad25a 147px,#47cf5d 161px,#46ce5f 175px,#45cd61 189px,#44cc62 203px,#44cc62 217px,#44cc61 231px,#45cd61 245px,#45cd60 259px,#45cd61 273px,#43cb63 287px,#42ca66 301px,#40c868 315px,#40c66d 329px,#40c371 343px,#40c176 357px,#40bf7a 371px,#40bd7f 385px,#41bb84 399px,#42b989 413px,#44b78e 427px,#45b592 441px,#45b496 455px,#46b398 469px,#47b29a 483px,#47b29b 497px,#47b29c 511px,#47b29c 525px,#47b29b 539px,#47b29a 553px,#46b399 567px,#46b497 581px,#45b494 595px,#44b591 609px,#44b78e 623px,#43b88b 637px,#42b988 651px,#41bb84 665px,#40bc80 679px,#40bd7d 693px,#40bf7b 707px,#40c078 721px,#40c175 735px)"></div>
<div style="top:490px;height:15px;background:linear-gradient(90deg,#86ef13 7px,#7feb1a 21px,#77e823 35px,#6fe32c 49px,#67e036 63px,#5fdd3e 77px,#59db46 91px,#54d94c 105px,#50d850 119px,#4dd555 133px,#4ad259 147px,#48d05c 161px,#46ce5f 175px,#45cd61 189px,#44cc62 203px,#44cc62 217px,#44cc62 231px,#45cd61 245px,#45cd60 259px,#45cd60 273px,#44cc61 287px,#43cb63 301px,#42ca65 315px,#41c966 329px,#40c868 343px,#40c66c 357px,#40c470 371px,#40c274 385px,#40c078 399px,#40be7c 413px,#40bc7f 427px,#41bb83 441px,#42b987 455px,#42b88a 469px,#43b78c 483px,#43b78e 497px,#44b68f 511px,#44b68f 525px,#44b68f 539px,#44b68f 553px,#43b78e 567px,#43b78c 581px,#43b88a 595px,#42b988 609px,#41ba86 623px,#41bb83 637px,#40bc80 651px,#40bd7e 665px,#40be7b 679px,#40bf79 693px,#40c177 707px,#40c274 721px,#40c372 735px)"></div>
<div style="top:504px;height:15px;background:linear-gradient(90deg,#87ef11 7px,#80ec19 21px,#78e822 35px,#70e42b 49px,#67e035 63px,#60dd3e 77px,#5adb45 91px,#55da4a 105px,#52d94e 119px,#4fd752 133px,#4cd456 147px,#4ad259 161px,#48d05c 175px,#46ce5e 189px,#45cd61 203px,#44cc62 217px,#44cc62 231px,#45cd61 245px,#45cd60 259px,#46ce5f 273px,#46ce5f 287px,#46ce5f 301px,#45cd60 315px,#45cd61 329px,#44cc63 343px,#42ca64 357px,#41c967 371px,#40c769 385px,#40c56d 399px,#40c371 413px,#40c275 427px,#40c078 441px,#40bf7b 455px,#40be7d 469px,#40bd7f 483px,#40bc80 497px,#40bb82 511px,#41bb83 525px,#41bb83 539px,#41bb83 553px,#41bb83 567px,#40bb82 581px,#40bc80 595px,#40bc7f 609px,#40bd7e 623px,#40be7c 637px,#40bf7a 651px,#40c079 665px,#40c177 679px,#40c275 693px,#40c373 707px,#40c470 721px,#40c56e 735px)"></div>
<div style="top:518px;height:15px;background:linear-gradient(90deg,#89f10f 7px,#82ed16 21px,#7be91f 35px,#73e528 49px,#6ae132 63px,#62de3a 77px,#5ddc41 91px,#59db45 105px,#56da49 119px,#53d94c 133px,#50d850 147px,#4ed653 161px,#4cd456 175px,#49d15a 189px,#47cf5d 203px,#45cd60 217px,#45cd60 231px,#46ce5f 245px,#47cf5e 259px,#48d05c 273px,#48d05b 287px,#49d15b 301px,#49d15b 315px,#48d05b 329px,#48d05d 343px,#46ce5f 357px,#45cd61 371px,#43cb63 385px,#42ca65 399px,#40c867 413px,#40c76a 427px,#40c56e 441px,#40c471 455px,#40c273 469px,#40c175 483px,#40c077 497px,#40c078 511px,#40bf79 525px,#40bf7a 539px,#40bf7a 553px,#40bf7a 567px,#40bf7a 581px,#40bf79 595px,#40c079 609px,#40c078 623px,#40c176 637px,#40c275 651px,#40c273 665px,#40c372 679px,#40c470 693px,#40c56e 707px,#40c66c 721px,#40c76b 735px)"></div>
<div style="top:532px;height:15px;background:linear-gradient(90deg,#8bf30d 7px,#86ef12 21px,#80ec19 35px,#79e821 49px,#71e52a 63px,#69e033 77px,#64df39 91px,#60dd3d 105px,#5ddc41 119px,#5adb44 133px,#57da47 147px,#55da4a 161px,#52d94e 175px,#4fd752 189px,#4bd357 203px,#48d05b 217px,#48d05d 231px,#48d05b 245px,#4ad259 259px,#4bd358 273px,#4cd456 287px,#4dd554 301px,#4dd554 315px,#4dd555 329px,#4cd456 343px,#4ad258 357px,#49d15b 371px,#47cf5d 385px,#46ce5f 399px,#44cc62 413px,#43cb64 427px,#42ca66 441px,#40c867 455px,#40c76a 469px,#40c66c 483px,#40c56e 497px,#40c470 511px,#40c471 525px,#40c372 539px,#40c372 553px,#40c373 567px,#40c373 581px,#40c372 595px,#40c372 609px,#40c371 623px,#40c470 637px,#40c46f 651px,#40c56e 665px,#40c66d 679px,#40c66b 693px,#40c76a 707px,#40c868 721px,#41c967 735px)"></div>
<div style="top:546px;height:15px;background:linear-gradient(90deg,#8ff709 7px,#8bf30d 21px,#87f011 35px,#83ed16 49px,#7deb1c 63px,#76e724 77px,#70e42b 91px,#6ae132 105px,#66df36 119px,#63de3a 133px,#61de3d 147px,#5edd3f 161px,#5cdc42 175px,#58db47 189px,#52d94d 203px,#4dd554 217px,#4cd456 231px,#4dd554 245px,#4fd752 259px,#50d850 273px,#51d84f 287px,#53d94d 301px,#53d94d 315px,#52d94e 329px,#50d850 343px,#4fd752 357px,#4dd555 371px,#4bd357 385px,#4ad25a 399px,#48d05c 413px,#47cf5e 427px,#45cd60 441px,#44cc62 455px,#43cb64 469px,#42ca65 483px,#41c966 497px,#40c867 511px,#40c868 525px,#40c76a 539px,#40c76a 553px,#40c66b 567px,#40c66b 581px,#40c66b 595px,#40c66b 609px,#40c76b 623px,#40c76a 637px,#40c76a 651px,#40c869 665px,#40c868 679px,#41c967 693px,#41c967 707px,#41c966 721px,#42ca65 735px)"></div>
<div style="top:560px;height:15px;background:linear-gradient(90deg,#94fb04 7px,#91f907 21px,#8ff709 35px,#8ef60a 49px,#8cf40c 63px,#87f011 77px,#7eeb1b 91px,#76e724 105px,#71e42a 119px,#6de32e 133px,#6be131 147px,#69e133 161px,#67e035 175px,#64df39 189px,#5ddc40 203px,#58db47 217px,#55da4a 231px,#55da4a 245px,#56da49 259px,#57da48 273px,#58db47 287px,#59db46 301px,#58db46 315px,#57da48 329px,#55da4a 343px,#53d94c 357px,#51d84f 371px,#4fd751 385px,#4dd554 399px,#4cd456 413px,#4ad259 427px,#49d15b 441px,#47cf5d 455px,#46ce5f 469px,#45cd60 483px,#44cc61 497px,#44cc63 511px,#43cb64 525px,#42ca64 539px,#42ca65 553px,#42ca66 567px,#41c966 581px,#41c966 595px,#41c966 609px,#41c966 623px,#41c966 637px,#42ca66 651px,#42ca65 665px,#42ca65 679px,#42ca64 693px,#43cb64 707px,#43cb63 721px,#43cb63 735px)"></div>
<div style="top:574px;height:15px;background:linear-gradient(90deg,#a0ff00 7px,#98ff00 21px,#97fe01 35px,#99ff00 49px,#98ff00 63px,#93fb05 77px,#8bf30d 91px,#82ed17 105px,#7be91f 119px,#77e723 133px,#75e725 147px,#75e626 161px,#74e627 175px,#71e52a 189px,#6be131 203px,#65df38 217px,#62de3b 231px,#60dd3d 245px,#5fdd3e 259px,#5fdd3e 273px,#5fdd3f 287px,#5edd3f 301px,#5ddc40 315px,#5cdc42 329px,#5adb45 343px,#58db47 357px,#55da4a 371px,#53d94c 385px,#51d84f 399px,#4fd751 413px,#4ed653 427px,#4cd456 441px,#4bd358 455px,#4ad259 469px,#49d15b 483px,#48d05d 497px,#47cf5e 511px,#46ce5f 525px,#45cd60 539px,#45cd61 553px,#44cc61 567px,#44cc62 581px,#44cc62 595px,#44cc62 609px,#44cc63 623px,#44cc63 637px,#44cc62 651px,#44cc62 665px,#44cc62 679px,#44cc62 693px,#44cc61 707px,#45cd61 721px,#45cd60 735px)"></div>
<div style="top:588px;height:15px;background:linear-gradient(90deg,#c3ff00 7px,#c1ff00 21px,#c3ff00 35px,#c8ff00 49px,#c1ff00 63px,#a0ff00 77px,#91f907 91px,#89f10f 105px,#83ed16 119px,#7fec1a 133px,#7eeb1b 147px,#7eeb1b 161px,#7eeb1b 175px,#7cea1e 189px,#77e724 203px,#71e529 217px,#6ee32e 231px,#6be230 245px,#69e033 259px,#67e035 273px,#66df37 287px,#64df39 301px,#62de3b 315px,#60dd3d 329px,#5edd40 343px,#5cdc42 357px,#59db45 371px,#57da47 385px,#55da4a 399px,#53d94c 413px,#51d84e 427px,#50d850 441px,#4ed652 455px,#4dd554 469px,#4cd456 483px,#4bd358 497px,#4ad259 511px,#49d15a 525px,#48d05b 539px,#48d05c 553px,#47cf5d 567px,#47cf5e 581px,#46ce5e 595px,#46ce5f 609px,#46ce5f 623px,#46ce5f 637px,#46ce5f 651px,#46ce5f 665px,#46ce5f 679px,#46ce5f 693px,#46ce5f 707px,#46ce5e 721px,#47cf5e 735px)"></div>
<div style="top:602px;height:15px;background:linear-gradient(90deg,#e3ff00 7px,#e7ff00 21px,#edff00 35px,#edff00 49px,#ddff00 63px,#aaff00 77px,#93fa05 91px,#8cf40c 105px,#88f010 119px,#86ef12 133px,#85ef13 147px,#85ef13 161px,#85ef13 175px,#83ee15 189px,#80ec19 203px,#7cea1e 217px,#78e822 231px,#75e725 245px,#72e529 259px,#6fe32c 273px,#6ce22f 287px,#69e132 301px,#67e035 315px,#64df38 329px,#62de3b 343px,#60dd3e 357px,#5ddc40 371px,#5bdc43 385px,#59db45 399px,#57da47 413px,#56da4a 427px,#54d94c 441px,#52d94d 455px,#51d84f 469px,#4fd751 483px,#4ed653 497px,#4dd554 511px,#4cd456 525px,#4bd357 539px,#4bd358 553px,#4ad259 567px,#4ad25a 581px,#49d15a 595px,#49d15b 609px,#48d05b 623px,#48d05c 637px,#48d05c 651px,#48d05c 665px,#48d05c 679px,#48d05c 693px,#48d05c 707px,#48d05c 721px,#48d05c 735px)"></div>
<div style="top:616px;height:15px;background:linear-gradient(90deg,#faff00 7px,#ffff00 21px,#ffff00 35px,#ffff00 49px,#f3ff00 63px,#bbff00 77px,#95fc03 91px,#8ff709 105px,#8cf40c 119px,#8bf30d 133px,#8af20e 147px,#8af20e 161px,#8af20e 175px,#89f10f 189px,#87f011 203px,#84ee14 217px,#81ec18 231px,#7deb1c 245px,#7ae920 259px,#76e724 273px,#72e529 287px,#6fe32d 301px,#6be230 315px,#68e033 329px,#66df36 343px,#64df39 357px,#61de3c 371px,#5fdd3e 385px,#5ddc41 399px,#5bdc43 413px,#5adb45 427px,#58db47 441px,#56da49 455px,#55da4b 469px,#53d94c 483px,#52d94e 497px,#50d84f 511px,#4fd751 525px,#4ed652 539px,#4ed654 553px,#4dd555 567px,#4cd456 581px,#4cd456 595px,#4bd357 609px,#4bd358 623px,#4bd358 637px,#4ad259 651px,#4ad259 665px,#4ad259 679px,#4ad259 693px,#4ad259 707px,#4ad259 721px,#4ad259 735px)"></div>
<div style="top:630px;height:15px;background:linear-gradient(90deg,#ffff00 7px,#ffff00 21px,#ffff00 35px,#ffff00 49px,#ffff00 63px,#caff00 77px,#99ff00 91px,#92fa06 105px,#90f808 119px,#8ff709 133px,#8ef60a 147px,#8ef60a 161px,#8ef60a 175px,#8df50b 189px,#8cf40c 203px,#8af20e 217px,#88f010 231px,#85ee14 245px,#80ec18 259px,#7cea1e 273px,#77e823 287px,#73e627 301px,#70e42b 315px,#6de22f 329px,#6ae132 343px,#67e035 357px,#65df37 371px,#63de3a 385px,#61de3c 399px,#5fdd3e 413px,#5edd40 427px,#5cdc42 441px,#5adb44 455px,#59db46 469px,#57da48 483px,#55da4a 497px,#54d94b 511px,#53d94d 525px,#52d94e 539px,#51d84f 553px,#50d850 567px,#4fd751 581px,#4ed652 595px,#4ed653 609px,#4dd554 623px,#4dd555 637px,#4dd555 651px,#4cd456 665px,#4cd456 679px,#4cd456 693px,#4cd456 707px,#4cd456 721px,#4cd456 735px)"></div>
<div style="top:644px;height:15px;background:linear-gradient(90deg,#ffff00 7px,#ffff00 21px,#ffff00 35px,#ffff00 49px,#ebff00 63px,#c5ff00 77px,#9eff00 91px,#95fc03 105px,#93fb05 119px,#92fa06 133px,#92fa06 147px,#92f906 161px,#91f907 175px,#91f907 189px,#90f808 203px,#8ef60a 217px,#8cf40c 231px,#8af20e 245px,#86ef12 259px,#81ec18 273px,#7cea1d 287px,#77e823 301px,#74e627 315px,#70e42a 329px,#6ee32d 343px,#6ce230 357px,#69e132 371px,#67e035 385px,#66df37 399px,#64df39 413px,#62de3b 427px,#60dd3d 441px,#5edd3f 455px,#5cdc41 469px,#5bdc43 483px,#59db45 497px,#58db47 511px,#56da48 525px,#55da4a 539px,#54d94b 553px,#53d94c 567px,#52d94e 581px,#51d84f 595px,#50d84f 609px,#50d850 623px,#4fd751 637px,#4fd752 651px,#4fd752 665px,#4ed653 679px,#4ed653 693px,#4ed653 707px,#4ed654 721px,#4dd554 735px)"></div>
<div style="top:658px;height:15px;background:linear-gradient(90deg,#ffff00 7px,#ffff00 21px,#fbff00 35px,#ebff00 49px,#daff00 63px,#b6ff00 77px,#9dff00 91px,#97fe01 105px,#96fd02 119px,#95fc03 133px,#95fc03 147px,#95fc03 161px,#94fc04 175px,#94fb04 189px,#93fb05 203px,#92f906 217px,#90f808 231px,#8df50b 245px,#8af20e 259px,#86ef13 273px,#80ec19 287px,#7bea1e 301px,#78e822 315px,#75e626 329px,#72e529 343px,#70e42b 357px,#6ee32d 371px,#6ce22f 385px,#6ae132 399px,#68e034 413px,#66df36 427px,#64df38 441px,#62de3b 455px,#61de3d 469px,#5fdd3f 483px,#5ddc41 497px,#5cdc43 511px,#5adb44 525px,#59db46 539px,#57da47 553px,#56da49 567px,#55da4a 581px,#54d94b 595px,#53d94c 609px,#53d94d 623px,#52d94e 637px,#51d84e 651px,#51d84f 665px,#50d850 679px,#50d850 693px,#50d850 707px,#4fd751 721px,#4fd751 735px)"></div>
<div style="top:672px;height:15px;background:linear-gradient(90deg,#fcff00 7px,#f4ff00 21px,#eaff00 35px,#dfff00 49px,#cdff00 63px,#b2ff00 77px,#a0ff00 91px,#99ff00 105px,#98ff00 119px,#98ff00 133px,#98ff00 147px,#98ff00 161px,#98ff00 175px,#97fe01 189px,#96fe02 203px,#95fc03 217px,#93fb05 231px,#91f807 245px,#8df50b 259px,#8af20e 273px,#85ee14 287px,#80ec19 301px,#7cea1e 315px,#79e921 329px,#77e823 343px,#75e725 357px,#73e627 371px,#71e529 385px,#6fe42c 399px,#6de32e 413px,#6be131 427px,#69e033 441px,#67e036 455px,#65df38 469px,#63de3a 483px,#61de3c 497px,#5fdd3e 511px,#5edd40 525px,#5cdc42 539px,#5bdc43 553px,#5adb45 567px,#58db46 581px,#57da47 595px,#56da49 609px,#55da4a 623px,#55da4b 637px,#54d94b 651px,#53d94c 665px,#53d94d 679px,#52d94d 693px,#52d94e 707px,#52d94e 721px,#51d84f 735px)"></div>
<div style="top:686px;height:15px;background:linear-gradient(90deg,#f1ff00 7px,#ebff00 21px,#e3ff00 35px,#daff00 49px,#caff00 63px,#b5ff00 77px,#a4ff00 91px,#9dff00 105px,#9dff00 119px,#9fff00 133px,#a0ff00 147px,#a1ff00 161px,#a1ff00 175px,#a1ff00 189px,#9eff00 203px,#99ff00 217px,#96fd02 231px,#94fb04 245px,#91f907 259px,#8df50b 273px,#89f10f 287px,#84ee14 301px,#81ec18 315px,#7feb1a 329px,#7deb1c 343px,#7bea1e 357px,#79e921 371px,#77e823 385px,#75e626 399px,#72e528 413px,#70e42b 427px,#6ee32e 441px,#6be230 455px,#69e033 469px,#67e035 483px,#65df38 497px,#63de3a 511px,#61de3c 525px,#60dd3e 539px,#5edd3f 553px,#5ddc41 567px,#5cdc43 581px,#5adb44 595px,#59db45 609px,#58db46 623px,#57da47 637px,#57da48 651px,#56da49 665px,#55da4a 679px,#55da4b 693px,#54d94b 707px,#54d94c 721px,#53d94c 735px)"></div>
<div style="top:700px;height:15px;background:linear-gradient(90deg,#eaff00 7px,#e4ff00 21px,#deff00 35px,#d5ff00 49px,#c9ff00 63px,#b7ff00 77px,#a3ff00 91px,#9aff00 105px,#a0ff00 119px,#a8ff00 133px,#abff00 147px,#afff00 161px,#b1ff00 175px,#b0ff00 189px,#abff00 203px,#a5ff00 217px,#9eff00 231px,#97fe01 245px,#95fc03 259px,#91f907 273px,#8ef60a 287px,#8af20e 301px,#88f010 315px,#86ef12 329px,#84ee14 343px,#82ed17 357px,#80ec19 371px,#7deb1c 385px,#7be91f 399px,#78e822 413px,#75e725 427px,#73e528 441px,#70e42b 455px,#6de32e 469px,#6be231 483px,#69e033 497px,#67e035 511px,#65df38 525px,#63de3a 539px,#62de3c 553px,#60dd3d 567px,#5fdd3f 581px,#5ddc40 595px,#5cdc42 609px,#5bdc43 623px,#5adb44 637px,#59db45 651px,#58db46 665px,#58db47 679px,#57da48 693px,#56da49 707px,#56da49 721px,#55da4a 735px)"></div>
<div style="top:714px;height:15px;background:linear-gradient(90deg,#e4ff00 7px,#deff00 21px,#d7ff00 35px,#cdff00 49px,#c2ff00 63px,#b0ff00 77px,#99ff00 91px,#95fc03 105px,#99ff00 119px,#aeff00 133px,#bcff00 147px,#c4ff00 161px,#c7ff00 175px,#c5ff00 189px,#c0ff00 203px,#b5ff00 217px,#aaff00 231px,#a1ff00 245px,#99ff00 259px,#96fd02 273px,#93fb05 287px,#91f907 301px,#8ff709 315px,#8df50b 329px,#8bf30d 343px,#89f10f 357px,#87ef11 371px,#84ee15 385px,#81ec18 399px,#7eeb1c 413px,#7be91f 427px,#78e823 441px,#75e626 455px,#72e529 469px,#6fe42c 483px,#6de22e 497px,#6be131 511px,#69e033 525px,#67e036 539px,#65df38 553px,#63de39 567px,#62de3b 581px,#60dd3d 595px,#5fdd3e 609px,#5edd40 623px,#5ddc41 637px,#5cdc42 651px,#5bdc43 665px,#5adb44 679px,#59db45 693px,#59db46 707px,#58db47 721px,#57da47 735px)"></div>
<div style="top:728px;height:15px;background:linear-gradient(90deg,#dfff00 7px,#d8ff00 21px,#ceff00 35px,#c3ff00 49px,#b5ff00 63px,#a3ff00 77px,#94fc04 91px,#8ff709 105px,#95fd03 119px,#adff00 133px,#c9ff00 147px,#d7ff00 161px,#dbff00 175px,#daff00 189px,#d3ff00 203px,#c8ff00 217px,#bbff00 231px,#afff00 245px,#a6ff00 259px,#a1ff00 273px,#9dff00 287px,#98ff00 301px,#96fd02 315px,#94fb04 329px,#92f906 343px,#8ff709 357px,#8cf40c 371px,#8af20e 385px,#87ef11 399px,#83ee15 413px,#80ec19 427px,#7dea1d 441px,#79e920 455px,#76e724 469px,#74e627 483px,#71e52a 497px,#6fe32c 511px,#6ce22f 525px,#6ae131 539px,#68e034 553px,#67e036 567px,#65df38 581px,#63de39 595px,#62de3b 609px,#61de3c 623px,#60dd3e 637px,#5fdd3f 651px,#5edd40 665px,#5ddc41 679px,#5cdc42 693px,#5bdc43 707px,#5adb44 721px,#5adb45 735px)"></div>
<div style="top:742px;height:15px;background:linear-gradient(90deg,#daff00 7px,#d1ff00 21px,#c6ff00 35px,#baff00 49px,#adff00 63px,#a4ff00 77px,#97fe01 91px,#93fb05 105px,#98ff00 119px,#baff00 133px,#daff00 147px,#e7ff00 161px,#ebff00 175px,#e9ff00 189px,#e3ff00 203px,#d9ff00 217px,#ccff00 231px,#c1ff00 245px,#baff00 259px,#b6ff00 273px,#b4ff00 287px,#b1ff00 301px,#a8ff00 315px,#9fff00 329px,#97fe01 343px,#94fc04 357px,#91f907 371px,#8ef60a 385px,#8bf30d 399px,#89f10f 413px,#85ef13 427px,#82ed17 441px,#7eeb1b 455px,#7be91f 469px,#78e822 483px,#75e725 497px,#73e528 511px,#70e42b 525px,#6ee32d 539px,#6ce230 553px,#6ae132 567px,#68e034 581px,#66df36 595px,#65df37 609px,#64df39 623px,#62de3b 637px,#61de3c 651px,#60dd3d 665px,#5fdd3e 679px,#5edd3f 693px,#5ddc41 707px,#5cdc41 721px,#5cdc42 735px)"></div>
<div style="top:756px;height:15px;background:linear-gradient(90deg,#d5ff00 7px,#cbff00 21px,#c1ff00 35px,#b5ff00 49px,#acff00 63px,#acff00 77px,#acff00 91px,#a6ff00 105px,#b2ff00 119px,#cfff00 133px,#e7ff00 147px,#f8ff00 161px,#ffff00 175px,#ffff00 189px,#f4ff00 203px,#e8ff00 217px,#dcff00 231px,#d2ff00 245px,#cdff00 259px,#ccff00 273px,#ccff00 287px,#caff00 301px,#c2ff00 315px,#b4ff00 329px,#a6ff00 343px,#9bff00 357px,#96fd02 371px,#93fa05 385px,#90f808 399px,#8cf40c 413px,#8af20e 427px,#86ef12 441px,#83ed16 455px,#7fec1a 469px,#7cea1d 483px,#79e921 497px,#76e724 511px,#74e627 525px,#72e529 539px,#6fe42c 553px,#6de32e 567px,#6be230 581px,#6ae132 595px,#68e034 609px,#66df36 623px,#65df37 637px,#64df39 651px,#63de3a 665px,#62de3b 679px,#61de3d 693px,#60dd3e 707px,#5fdd3f 721px,#5edd40 735px)"></div>
<div style="top:770px;height:15px;background:linear-gradient(90deg,#d3ff00 7px,#c9ff00 21px,#c0ff00 35px,#b7ff00 49px,#b1ff00 63px,#b3ff00 77px,#b6ff00 91px,#bbff00 105px,#c7ff00 119px,#dcff00 133px,#f0ff00 147px,#ffff00 161px,#ffff00 175px,#ffff00 189px,#ffff00 203px,#fdff00 217px,#ecff00 231px,#e4ff00 245px,#e0ff00 259px,#deff00 273px,#ddff00 287px,#daff00 301px,#d4ff00 315px,#c8ff00 329px,#baff00 343px,#a9ff00 357px,#9dff00 371px,#96fd02 385px,#93fb05 399px,#90f808 413px,#8df50b 427px,#8af20e 441px,#87ef11 455px,#83ee15 469px,#80ec19 483px,#7deb1c 497px,#7ae920 511px,#78e822 525px,#75e725 539px,#73e528 553px,#71e42a 567px,#6fe32d 581px,#6de22f 595px,#6be231 609px,#69e132 623px,#68e034 637px,#67e036 651px,#65df37 665px,#64df39 679px,#63de3a 693px,#62de3b 707px,#61de3c 721px,#60dd3d 735px)"></div>
<div style="top:784px;height:15px;background:linear-gradient(90deg,#d3ff00 7px,#caff00 21px,#c2ff00 35px,#bcff00 49px,#b8ff00 63px,#b8ff00 77px,#baff00 91px,#beff00 105px,#caff00 119px,#e1ff00 133px,#fdff00 147px,#ffff00 161px,#ffff00 175px,#ffff00 189px,#ffff00 203px,#ffff00 217px,#ffff00 231px,#fcff00 245px,#f3ff00 259px,#eeff00 273px,#eaff00 287px,#e6ff00 301px,#e0ff00 315px,#d9ff00 329px,#ccff00 343px,#bcff00 357px,#aaff00 371px,#9dff00 385px,#96fd02 399px,#93fb05 413px,#90f808 427px,#8df50b 441px,#8af20e 455px,#87f011 469px,#84ee15 483px,#81ec18 497px,#7eeb1b 511px,#7bea1e 525px,#79e821 539px,#76e724 553px,#74e627 567px,#72e529 581px,#70e42b 595px,#6ee32d 609px,#6ce22f 623px,#6be131 637px,#69e133 651px,#68e034 665px,#67e036 679px,#65df37 693px,#64df38 707px,#63de3a 721px,#62de3b 735px)"></div>
<div style="top:798px;height:15px;background:linear-gradient(90deg,#d5ff00 7px,#ceff00 21px,#c7ff00 35px,#c2ff00 49px,#c0ff00 63px,#bfff00 77px,#c0ff00 91px,#c4ff00 105px,#d0ff00 119px,#eaff00 133px,#ffff00 147px,#ffff00 161px,#ffff00 175px,#ffff00 189px,#ffff00 203px,#ffff00 217px,#ffff00 231px,#ffff00 245px,#ffff00 259px,#ffff00 273px,#ffff00 287px,#f4ff00 301px,#ecff00 315px,#e5ff00 329px,#dbff00 343px,#cbff00 357px,#b9ff00 371px,#a7ff00 385px,#9bff00 399px,#96fd02 413px,#92fa06 427px,#90f808 441px,#8df50b 455px,#8af20e 469px,#88f010 483px,#84ee14 497px,#81ed17 511px,#7feb1b 525px,#7cea1d 539px,#7ae920 553px,#77e823 567px,#75e725 581px,#73e628 595px,#71e52a 609px,#6fe42c 623px,#6ee32e 637px,#6ce22f 651px,#6ae131 665px,#69e133 679px,#68e034 693px,#67e036 707px,#65df37 721px,#64df38 735px)"></div>
<div style="top:812px;height:15px;background:linear-gradient(90deg,#d9ff00 7px,#d3ff00 21px,#ceff00 35px,#cbff00 49px,#c9ff00 63px,#caff00 77px,#cdff00 91px,#d5ff00 105px,#e3ff00 119px,#feff00 133px,#ffff00 147px,#ffff00 161px,#ffff00 175px,#ffff00 189px,#ffff00 203px,#ffff00 217px,#ffff00 231px,#ffff00 245px,#ffff00 259px,#ffff00 273px,#ffff00 287px,#ffff00 301px,#ffff00 315px,#f3ff00 329px,#e6ff00 343px,#d8ff00 357px,#c6ff00 371px,#b2ff00 385px,#a3ff00 399px,#98ff00 413px,#95fc03 427px,#92fa06 441px,#8ff709 455px,#8df50b 469px,#8af20e 483px,#88f010 497px,#85ee13 511px,#82ed17 525px,#7fec1a 539px,#7dea1d 553px,#7ae91f 567px,#78e822 581px,#76e724 595px,#74e626 609px,#72e528 623px,#70e42a 637px,#6fe32c 651px,#6de32e 665px,#6ce230 679px,#6ae131 693px,#69e033 707px,#68e034 721px,#67e036 735px)"></div>
<div style="top:826px;height:15px;background:linear-gradient(90deg,#ddff00 7px,#daff00 21px,#d7ff00 35px,#d5ff00 49px,#d5ff00 63px,#d8ff00 77px,#ddff00 91px,#e5ff00 105px,#f5ff00 119px,#ffff00 133px,#ffff00 147px,#ffff00 161px,#ffff00 175px,#ffff00 189px,#ffff00 203px,#ffff00 217px,#ffff00 231px,#ffff00 245px,#ffff00 259px,#ffff00 273px,#ffff00 287px,#ffff00 301px,#ffff00 315px,#ffff00 329px,#efff00 343px,#dfff00 357px,#cfff00 371px,#bcff00 385px,#aaff00 399px,#9eff00 413px,#97fe01 427px,#94fc04 441px,#92f906 455px,#8ff709 469px,#8df50b 483px,#8af20e 497px,#88f010 511px,#85ef13 525px,#83ed16 539px,#80ec19 553px,#7eeb1c 567px,#7bea1e 581px,#79e921 595px,#77e823 609px,#75e725 623px,#73e627 637px,#72e529 651px,#70e42b 665px,#6ee32d 679px,#6de22f 693px,#6be230 707px,#6ae132 721px,#69e033 735px)"></div>
<div style="top:840px;height:15px;background:linear-gradient(90deg,#e2ff00 7px,#e0ff00 21px,#dfff00 35px,#deff00 49px,#e0ff00 63px,#e3ff00 77px,#e9ff00 91px,#f5ff00 105px,#ffff00 119px,#ffff00 133px,#ffff00 147px,#ffff00 161px,#ffff00 175px,#ffff00 189px,#ffff00 203px,#ffff00 217px,#ffff00 231px,#ffff00 245px,#ffff00 259px,#ffff00 273px,#ffff00 287px,#ffff00 301px,#ffff00 315px,#ffff00 329px,#f6ff00 343px,#e4ff00 357px,#d5ff00 371px,#c4ff00 385px,#b3ff00 399px,#a5ff00 413px,#9bff00 427px,#96fd02 441px,#94fb04 455px,#91f907 469px,#8ff709 483px,#8df50b 497px,#8bf30d 511px,#89f10f 525px,#86ef12 539px,#83ee15 553px,#81ec18 567px,#7eeb1b 581px,#7cea1d 595px,#7ae920 609px,#78e822 623px,#76e724 637px,#74e626 651px,#73e528 665px,#71e42a 679px,#6fe42c 693px,#6ee32d 707px,#6ce22f 721px,#6be231 735px)"></div>
<div style="top:854px;height:15px;background:linear-gradient(90deg,#e8ff00 7px,#e7ff00 21px,#e6ff00 35px,#e7ff00 49px,#eaff00 63px,#efff00 77px,#f9ff00 91px,#ffff00 105px,#ffff00 119px,#ffff00 133px,#ffff00 147px,#ffff00 161px,#ffff00 175px,#ffff00 189px,#ffff00 203px,#ffff00 217px,#ffff00 231px,#ffff00 245px,#ffff00 259px,#ffff00 273px,#ffff00 287px,#ffff00 301px,#ffff00 315px,#ffff00 329px,#f9ff00 343px,#e6ff00 357px,#d9ff00 371px,#caff00 385px,#bcff00 399px,#adff00 413px,#a2ff00 427px,#99ff00 441px,#96fd02 455px,#93fb05 469px,#91f907 483px,#8ff709 497px,#8df50b 511px,#8bf30d 525px,#89f10f 539px,#87ef12 553px,#84ee15 567px,#82ed17 581px,#7fec1a 595px,#7dea1c 609px,#7be91f 623px,#79e821 637px,#77e823 651px,#75e725 665px,#73e627 679px,#72e529 693px,#70e42b 707px,#6fe32c 721px,#6de32e 735px)"></div>
<div style="top:868px;height:15px;background:linear-gradient(90deg,#efff00 7px,#eeff00 21px,#efff00 35px,#f1ff00 49px,#f6ff00 63px,#ffff00 77px,#ffff00 91px,#ffff00 105px,#ffff00 119px,#ffff00 133px,#ffff00 147px,#ffff00 161px,#ffff00 175px,#ffff00 189px,#ffff00 203px,#ffff00 217px,#ffff00 231px,#ffff00 245px,#ffff00 259px,#ffff00 273px,#ffff00 287px,#ffff00 301px,#ffff00 315px,#ffff00 329px,#fbff00 343px,#e9ff00 357px,#deff00 371px,#d2ff00 385px,#c4ff00 399px,#b7ff00 413px,#a9ff00 427px,#a0ff00 441px,#98ff00 455px,#96fd02 469px,#93fb05 483px,#91f907 497px,#8ff709 511px,#8df50b 525px,#8bf30d 539px,#89f10f 553px,#87f011 567px,#85ee14 581px,#82ed17 595px,#80ec19 609px,#7eeb1c 623px,#7cea1e 637px,#7ae920 651px,#78e822 665px,#76e724 679px,#74e626 693px,#73e528 707px,#71e52a 721px,#70e42b 735px)"></div>
<div style="top:882px;height:15px;background:linear-gradient(90deg,#f9ff00 7px,#f9ff00 21px,#fbff00 35px,#ffff00 49px,#ffff00 63px,#ffff00 77px,#ffff00 91px,#ffff00 105px,#ffff00 119px,#ffff00 133px,#ffff00 147px,#ffff00 161px,#ffff00 175px,#ffff00 189px,#ffff00 203px,#ffff00 217px,#ffff00 231px,#ffff00 245px,#ffff00 259px,#ffff00 273px,#ffff00 287px,#ffff00 301px,#ffff00 315px,#ffff00 329px,#ffff00 343px,#f0ff00 357px,#e4ff00 371px,#daff00 385px,#ceff00 399px,#c1ff00 413px,#b4ff00 427px,#a7ff00 441px,#9fff00 455px,#98ff00 469px,#95fd03 483px,#93fb05 497px,#91f907 511px,#8ff709 525px,#8df50b 539px,#8bf30d 553px,#89f10f 567px,#88f011 581px,#85ef13 595px,#83ed16 609px,#81ec18 623px,#7eeb1b 637px,#7cea1d 651px,#7ae91f 665px,#79e821 679px,#77e723 693px,#75e725 707px,#73e627 721px,#72e529 735px)"></div>
<div style="top:896px;height:15px;background:linear-gradient(90deg,#ffff00 7px,#ffff00 21px,#ffff00 35px,#ffff00 49px,#ffff00 63px,#ffff00 77px,#ffff00 91px,#ffff00 105px,#ffff00 119px,#ffff00 133px,#ffff00 147px,#ffff00 161px,#ffff00 175px,#ffff00 189px,#ffff00 203px,#ffff00 217px,#ffff00 231px,#ffff00 245px,#ffff00 259px,#ffff00 273px,#ffff00 287px,#ffff00 301px,#ffff00 315px,#ffff00 329px,#ffff00 343px,#feff00 357px,#ecff00 371px,#e2ff00 385px,#d8ff00 399px,#cbff00 413px,#bfff00 427px,#b2ff00 441px,#a6ff00 455px,#9eff00 469px,#98ff00 483px,#95fd03 497px,#93fb05 511px,#91f907 525px,#8ff709 539px,#8df50b 553px,#8cf40c 567px,#8af20e 581px,#88f010 595px,#86ef13 609px,#83ee15 623px,#81ed18 637px,#7feb1a 651px,#7dea1c 665px,#7bea1f 679px,#79e921 693px,#77e823 707px,#76e725 721px,#74e626 735px)"></div>
<div style="top:910px;height:15px;background:linear-gradient(90deg,#ffff00 7px,#ffff00 21px,#ffff00 35px,#ffff00 49px,#ffff00 63px,#ffff00 77px,#ffff00 91px,#ffff00 105px,#ffff00 119px,#ffff00 133px,#ffff00 147px,#ffff00 161px,#ffff00 175px,#ffff00 189px,#ffff00 203px,#ffff00 217px,#ffff00 231px,#ffff00 245px,#ffff00 259px,#ffff00 273px,#ffff00 287px,#ffff00 301px,#ffff00 315px,#ffff00 329px,#ffff00 343px,#ffff00 357px,#f8ff00 371px,#eaff00 385px,#e0ff00 399px,#d5ff00 413px,#c9ff00 427px,#bdff00 441px,#b0ff00 455px,#a5ff00 469px,#9dff00 483px,#97ff01 497px,#95fd03 511px,#93fb05 525px,#91f907 539px,#90f808 553px,#8ef60a 567px,#8cf40c 581px,#8af20e 595px,#88f010 609px,#86ef12 623px,#84ee15 637px,#82ed17 651px,#80ec1a 665px,#7eeb1c 679px,#7cea1e 693px,#7ae920 707px,#78e822 721px,#76e724 735px)"></div>
<div style="top:924px;height:15px;background:linear-gradient(90deg,#ffff00 7px,#ffff00 21px,#ffff00 35px,#ffff00 49px,#ffff00 63px,#ffff00 77px,#ffff00 91px,#ffff00 105px,#ffff00 119px,#ffff00 133px,#ffff00 147px,#ffff00 161px,#ffff00 175px,#ffff00 189px,#ffff00 203px,#ffff00 217px,#ffff00 231px,#ffff00 245px,#ffff00 259px,#ffff00 273px,#ffff00 287px,#ffff00 301px,#ffff00 315px,#ffff00 329px,#ffff00 343px,#ffff00 357px,#ffff00 371px,#f3ff00 385px,#e7ff00 399px,#ddff00 413px,#d3ff00 427px,#c7ff00 441px,#bbff00 455px,#aeff00 469px,#a4ff00 483px,#9dff00 497px,#97fe01 511px,#95fd03 525px,#93fb05 539px,#91f907 553px,#90f808 567px,#8ef60a 581px,#8cf40c 595px,#8af20e 609px,#88f010 623px,#86ef12 637px,#84ee14 651px,#82ed17 665px,#80ec19 679px,#7eeb1b 693px,#7cea1d 707px,#7ae91f 721px,#79e821 735px)"></div>
<div style="top:938px;height:15px;background:linear-gradient(90deg,#ffff00 7px,#ffff00 21px,#ffff00 35px,#ffff00 49px,#ffff00 63px,#ffff00 77px,#ffff00 91px,#ffff00 105px,#ffff00 119px,#ffff00 133px,#ffff00 147px,#ffff00 161px,#ffff00 175px,#ffff00 189px,#ffff00 203px,#ffff00 217px,#ffff00 231px,#ffff00 245px,#ffff00 259px,#ffff00 273px,#ffff00 287px,#ffff00 301px,#ffff00 315px,#ffff00 329px,#ffff00 343px,#ffff00 357px,#ffff00 371px,#feff00 385px,#eeff00 399px,#e4ff00 413px,#dbff00 427px,#d0ff00 441px,#c5ff00 455px,#b9ff00 469px,#adff00 483px,#a3ff00 497px,#9cff00 511px,#97fe01 525px,#95fd03 539px,#93fb05 553px,#91f907 567px,#90f808 581px,#8ef60a 595px,#8cf40c 609px,#8af20e 623px,#89f10f 637px,#87ef12 651px,#84ee14 665px,#82ed16 679px,#80ec19 693px,#7eeb1b 707px,#7dea1d 721px,#7be91f 735px)"></div>
<div style="top:952px;height:15px;background:linear-gradient(90deg,#ffff00 7px,#ffff00 21px,#ffff00 35px,#ffff00 49px,#ffff00 63px,#ffff00 77px,#ffff00 91px,#ffff00 105px,#ffff00 119px,#ffff00 133px,#ffff00 147px,#ffff00 161px,#ffff00 175px,#ffff00 189px,#ffff00 203px,#ffff00 217px,#ffff00 231px,#ffff00 245px,#ffff00 259px,#ffff00 273px,#ffff00 287px,#ffff00 301px,#ffff00 315px,#ffff00 329px,#ffff00 343px,#ffff00 357px,#ffff00 371px,#ffff00 385px,#f8ff00 399px,#ebff00 413px,#e2ff00 427px,#d9ff00 441px,#cdff00 455px,#c2ff00 469px,#b6ff00 483px,#abff00 497px,#a2ff00 511px,#9bff00 525px,#97fe01 539px,#95fc03 553px,#93fb05 567px,#91f907 581px,#90f808 595px,#8ef60a 609px,#8cf40c 623px,#8af20e 637px,#89f10f 651px,#87ef11 665px,#85ee14 679px,#83ed16 693px,#81ec18 707px,#7feb1a 721px,#7dea1d 735px)"></div>
<div style="top:966px;height:15px;background:linear-gradient(90deg,#ffff00 7px,#ffff00 21px,#ffff00 35px,#ffff00 49px,#ffff00 63px,#ffff00 77px,#ffff00 91px,#ffff00 105px,#ffff00 119px,#ffff00 133px,#ffff00 147px,#ffff00 161px,#ffff00 175px,#ffff00 189px,#ffff00 203px,#ffff00 217px,#ffff00 231px,#ffff00 245px,#ffff00 259px,#ffff00 273px,#ffff00 287px,#ffff00 301px,#ffff00 315px,#ffff00 329px,#ffff00 343px,#ffff00 357px,#ffff00 371px,#ffff00 385px,#ffff00 399px,#f1ff00 413px,#e7ff00 427px,#dfff00 441px,#d6ff00 455px,#caff00 469px,#c0ff00 483px,#b4ff00 497px,#a9ff00 511px,#a1ff00 525px,#9aff00 539px,#97fe01 553px,#95fc03 567px,#93fb05 581px,#91f907 595px,#90f808 609px,#8ef60a 623px,#8cf40c 637px,#8af20e 651px,#89f10f 665px,#87f011 679px,#85ee13 693px,#83ed16 707px,#81ec18 721px,#7feb1a 735px)"></div>
<div style="top:980px;height:15px;background:linear-gradient(90deg,#ffff00 7px,#ffff00 21px,#ffff00 35px,#ffff00 49px,#ffff00 63px,#ffff00 77px,#ffff00 91px,#ffff00 105px,#ffff00 119px,#ffff00 133px,#ffff00 147px,#ffff00 161px,#ffff00 175px,#ffff00 189px,#ffff00 203px,#ffff00 217px,#ffff00 231px,#ffff00 245px,#ffff00 259px,#ffff00 273px,#ffff00 287px,#ffff00 301px,#ffff00 315px,#ffff00 329px,#ffff00 343px,#ffff00 357px,#ffff00 371px,#ffff00 385px,#ffff00 399px,#f9ff00 413px,#edff00 427px,#e4ff00 441px,#dcff00 455px,#d2ff00 469px,#c7ff00 483px,#bdff00 497px,#b1ff00 511px,#a7ff00 525px,#a0ff00 539px,#99ff00 553px,#97fe01 567px,#95fc03 581px,#93fb05 595px,#91f907 609px,#90f808 623px,#8ef60a 637px,#8cf40c 651px,#8af20e 665px,#89f10f 679px,#87f011 693px,#85ef13 707px,#83ed16 721px,#81ed18 735px)"></div>
<div style="top:994px;height:15px;background:linear-gradient(90deg,#ffff00 7px,#ffff00 21px,#ffff00 35px,#ffff00 49px,#ffff00 63px,#ffff00 77px,#ffff00 91px,#ffff00 105px,#ffff00 119px,#ffff00 133px,#ffff00 147px,#ffff00 161px,#ffff00 175px,#ffff00 189px,#ffff00 203px,#ffff00 217px,#ffff00 231px,#ffff00 245px,#ffff00 259px,#ffff00 273px,#ffff00 287px,#ffff00 301px,#ffff00 315px,#ffff00 329px,#ffff00 343px,#ffff00 357px,#ffff00 371px,#ffff00 385px,#ffff00 399px,#ffff00 413px,#f2ff00 427px,#e9ff00 441px,#e0ff00 455px,#d9ff00 469px,#ceff00 483px,#c4ff00 497px,#b9ff00 511px,#afff00 525px,#a5ff00 539px,#9fff00 553px,#98ff00 567px,#96fd02 581px,#94fc04 595px,#93fa05 609px,#91f907 623px,#8ff709 637px,#8ef60a 651px,#8cf40c 665px,#8af20e 679px,#89f10f 693px,#87f011 707px,#85ef13 721px,#83ee16 735px)"></div>
<div style="top:1008px;height:15px;background:linear-gradient(90deg,#ffff00 7px,#ffff00 21px,#ffff00 35px,#ffff00 49px,#ffff00 63px,#ffff00 77px,#ffff00 91px,#ffff00 105px,#ffff00 119px,#ffff00 133px,#ffff00 147px,#ffff00 161px,#ffff00 175px,#ffff00 189px,#ffff00 203px,#ffff00 217px,#ffff00 231px,#ffff00 245px,#ffff00 259px,#ffff00 273px,#ffff00 287px,#ffff00 301px,#ffff00 315px,#ffff00 329px,#ffff00 343px,#ffff00 357px,#ffff00 371px,#ffff00 385px,#ffff00 399px,#ffff00 413px,#f8ff00 427px,#edff00 441px,#e5ff00 455px,#ddff00 469px,#d5ff00 483px,#cbff00 497px,#c1ff00 511px,#b6ff00 525px,#acff00 539px,#a4ff00 553px,#9dff00 567px,#98ff00 581px,#96fd02 595px,#94fc04 609px,#92fa06 623px,#91f907 637px,#8ff709 651px,#8ef60a 665px,#8cf40c 679px,#8af20e 693px,#89f10f 707px,#87f011 721px,#85ef13 735px)"></div>
<div style="top:1022px;height:15px;background:linear-gradient(90deg,#ffff00 7px,#ffff00 21px,#ffff00 35px,#ffff00 49px,#ffff00 63px,#ffff00 77px,#ffff00 91px,#ffff00 105px,#ffff00 119px,#ffff00 133px,#ffff00 147px,#ffff00 161px,#ffff00 175px,#ffff00 189px,#ffff00 203px,#ffff00 217px,#ffff00 231px,#ffff00 245px,#ffff00 259px,#ffff00 273px,#ffff00 287px,#ffff00 301px,#ffff00 315px,#ffff00 329px,#ffff00 343px,#ffff00 357px,#ffff00 371px,#ffff00 385px,#ffff00 399px,#ffff00 413px,#feff00 427px,#f1ff00 441px,#e9ff00 455px,#e1ff00 469px,#daff00 483px,#d1ff00 497px,#c7ff00 511px,#beff00 525px,#b3ff00 539px,#a9ff00 553px,#a2ff00 567px,#9cff00 581px,#97fe01 595px,#96fd02 609px,#94fb04 623px,#92fa06 637px,#91f907 651px,#8ff709 665px,#8df50b 679px,#8cf40c 693px,#8af20e 707px,#89f10f 721px,#87ef11 735px)"></div>
<div style="top:1036px;height:15px;background:linear-gradient(90deg,#ffff00 7px,#ffff00 21px,#ffff00 35px,#ffff00 49px,#ffff00 63px,#ffff00 77px,#ffff00 91px,#ffff00 105px,#ffff00 119px,#ffff00 133px,#ffff00 147px,#ffff00 161px,#ffff00 175px,#ffff00 189px,#ffff00 203px,#ffff00 217px,#ffff00 231px,#ffff00 245px,#ffff00 259px,#ffff00 273px,#ffff00 287px,#ffff00 301px,#ffff00 315px,#ffff00 329px,#ffff00 343px,#ffff00 357px,#ffff00 371px,#ffff00 385px,#ffff00 399px,#ffff00 413px,#ffff00 427px,#f6ff00 441px,#ecff00 455px,#e5ff00 469px,#deff00 483px,#d7ff00 497px,#cdff00 511px,#c4ff00 525px,#baff00 539px,#b0ff00 553px,#a7ff00 567px,#a0ff00 581px,#9aff00 595px,#97fe01 609px,#95fd03 623px,#94fb04 637px,#92fa06 651px,#90f808 665px,#8ff709 679px,#8df50b 693px,#8cf40c 707px,#8af20e 721px,#89f10f 735px)"></div>
<div style="top:1050px;height:15px;background:linear-gradient(90deg,#ffff00 7px,#ffff00 21px,#ffff00 35px,#ffff00 49px,#ffff00 63px,#ffff00 77px,#ffff00 91px,#ffff00 105px,#ffff00 119px,#ffff00 133px,#ffff00 147px,#ffff00 161px,#ffff00 175px,#ffff00 189px,#ffff00 203px,#ffff00 217px,#ffff00 231px,#ffff00 245px,#ffff00 259px,#ffff00 273px,#ffff00 287px,#ffff00 301px,#ffff00 315px,#ffff00 329px,#ffff00 343px,#ffff00 357px,#ffff00 371px,#ffff00 385px,#ffff00 399px,#ffff00 413px,#ffff00 427px,#fbff00 441px,#f0ff00 455px,#e9ff00 469px,#e2ff00 483px,#dbff00 497px,#d2ff00 511px,#c9ff00 525px,#c0ff00 539px,#b6ff00 553px,#adff00 567px,#a5ff00 581px,#9fff00 595px,#99ff00 609px,#97fe01 623px,#95fc03 637px,#93fb05 651px,#92f906 665px,#90f808 679px,#8ff709 693px,#8df50b 707px,#8bf30d 721px,#8af20e 735px)"></div>
<div style="top:1064px;height:15px;background:linear-gradient(90deg,#ffff00 7px,#ffff00 21px,#ffff00 35px,#ffff00 49px,#ffff00 63px,#ffff00 77px,#ffff00 91px,#ffff00 105px,#ffff00 119px,#ffff00 133px,#ffff00 147px,#ffff00 161px,#ffff00 175px,#ffff00 189px,#ffff00 203px,#ffff00 217px,#ffff00 231px,#ffff00 245px,#ffff00 259px,#ffff00 273px,#ffff00 287px,#ffff00 301px,#ffff00 315px,#ffff00 329px,#ffff00 343px,#ffff00 357px,#ffff00 371px,#ffff00 385px,#ffff00 399px,#ffff00 413px,#ffff00 427px,#ffff00 441px,#f4ff00 455px,#ecff00 469px,#e5ff00 483px,#deff00 497px,#d7ff00 511px,#ceff00 525px,#c6ff00 539px,#bcff00 553px,#b3ff00 567px,#a9ff00 581px,#a3ff00 595px,#9dff00 609px,#98ff00 623px,#96fd02 637px,#94fc04 651px,#93fa05 665px,#91f907 679px,#90f808 693px,#8ef60a 707px,#8df50b 721px,#8bf30d 735px)"></div>
<div style="top:1078px;height:15px;background:linear-gradient(90deg,#ffff00 7px,#ffff00 21px,#ffff00 35px,#ffff00 49px,#ffff00 63px,#ffff00 77px,#ffff00 91px,#ffff00 105px,#ffff00 119px,#ffff00 133px,#ffff00 147px,#ffff00 161px,#ffff00 175px,#ffff00 189px,#ffff00 203px,#ffff00 217px,#ffff00 231px,#ffff00 245px,#ffff00 259px,#ffff00 273px,#ffff00 287px,#ffff00 301px,#ffff00 315px,#ffff00 329px,#ffff00 343px,#ffff00 357px,#ffff00 371px,#ffff00 385px,#ffff00 399px,#ffff00 413px,#ffff00 427px,#ffff00 441px,#f8ff00 455px,#eeff00 469px,#e8ff00 483px,#e1ff00 497px,#dbff00 511px,#d3ff00 525px,#caff00 539px,#c2ff00 553px,#b9ff00 567px,#afff00 581px,#a7ff00 595px,#a1ff00 609px,#9bff00 623px,#97fe01 637px,#96fd02 651px,#94fb04 665px,#92fa06 679px,#91f907 693px,#8ff709 707px,#8ef60a 721px,#8cf40c 735px)"></div>
</div></div>
<svg class="L" width="906" height="1229" viewBox="0 0 906 1229"><g fill="#99cbcc"><path d="M209.3 485.3 L220 487 L234.5 491.8 L227.2 494.2 L219 495 L212 496 Z"/><path d="M195 617.1 L214.1 618.2 L214.1 624.5 L194.2 623.9 Z"/></g>
<g fill="none" stroke="#99cbcc" stroke-width="1.6"><path d="M331.8 329.7 L345 322 L361 312.5"/><path d="M214 618.2 H195" stroke-width="0"/></g>
<g fill="none" stroke="#3a66a0" stroke-width="1.1"><path d="M48.8,212.4 57.7,216.8 63,221.2 69.1,224.7 72.7,230.9 85,231.8 93,237.1 96.5,238 101,234.4 107.1,237.1 111.5,241 117.7,239.2 130,238.5 133.6,242.4 138,247.7 146,246.8 151.3,243.3 154.8,243.3 163.6,250.3 167.2,249.4 176,251.2 184.8,248 193.6,250.3 203.9,248.6 206,243 215,239.7 237,240.8 252.5,237.5 259,234.2 263.5,238.6 263.5,247.5 265.7,257.4"/><path d="M48.8,252.1 59.4,258.3 75.3,259.2 86,258.3 96.5,265.3 110.6,277.7 116,286.5 128.3,291.8 146,296.2 157.5,303.8 163.6,313 172.5,313.9 190.6,309.3 219.3,286"/><path d="M207.3,127.1 210.9,130.8 213.4,134.4 213.4,140.5 219.4,142.9 223.1,147.8 223.1,151.4 215.8,151.4 213.4,156.3 208.5,163.6 214.6,159.9 219.4,159.9 221.9,166 227.9,166 231.6,172.1 235.2,169.6 238.9,178.1 243.7,176.9 254.6,184.2 258.3,192.7 263.1,195.1 269.2,193.9 277.7,198.8 283.8,196.3 289.8,200 297.1,202.4 304.4,201.2 306.8,204.9 314.1,207.3 333.6,201.2 355.4,192.7 384.6,183 401.1,178 406.8,176.3 409.1,179.7 416,184.8 419.4,192.8 426.2,198.5 426.2,203 434.2,207.6 436.4,206.4 440.4,206.4 439.3,212.1 447.8,213.3 451.3,216.7 461.5,216.7 462.6,222.4 470.6,222.4 474,225.2 487.7,226.4 489.4,229.8 484.3,229.8 484.3,236.1 485.4,238.3 482,242.9 476.3,255.4 470.6,261.1 464.9,263.4 462.6,258.8 455.8,256.6 449,260 446.7,264.5 439.9,270.2 434.2,278.2 434.2,285 439.9,289.6 441,294.1 438.7,298.7"/><path d="M404,110 409.9,113.9 411.9,117.9 407,119.9 410,116 418.9,118.9 421.9,123.8 423.8,129.8 439.7,137.8 459.6,149.7 475.5,158.6 485.4,162.6 493.4,167.6 513.3,177.5 523.2,175.5 531.1,181.5 539.1,191.4 547,195.4 557,201.3 564.9,202.3 562.9,209.3 561.9,213.3 564.9,219.2 561.9,225.2 564.9,229.1"/><path d="M538.9,14.9 535.9,19.9 533.9,24.9 533.9,29.8 539.9,24.9 542.8,29.8 543.8,35.8 546.8,37.8 547.8,31.8 551.8,31.8 552.8,36.8 556.8,39.8 569.7,38.8 571.7,44.7 575.6,45.7 573.6,50.7 578.6,56.7 577.6,61.6 583.6,60.6 589.5,62.6 592.5,58.6 603.4,56.7 605.4,62.6 617.4,66.6 639.2,81.5 643.2,78.5 649.1,76.5 657.1,81.5 653.1,85.5 654.1,90.4 655.1,97.4 659.1,99.4 663.1,98.4 673,102.4 679,108.3 677,114.3 676,120.2 679,128.2 686.9,129.2 680.9,134.1 677,140.1 684.9,156"/><path d="M833.3,19.3 834.1,23.4 840.6,28.2 843.8,31.4 847.8,28.2 851.9,30.6 854.3,38.7 851.9,46.7 850.2,55.6 853.5,58.8 863.1,52.4 869.6,54.8 871.2,61.2 876,63.7 885.7,70.9"/><path d="M48.8,610.3 63,618.3 75.3,627.1 93,644.8 117.7,667.7 133.6,674.8 163.6,685.4 177.7,684.5 183,687.2 194.5,688.8 212.2,686.6 216.6,682.1"/><path d="M48.8,628.9 71.8,631.5 82.4,644.8 107.1,666 128.3,674.8 154.8,681.9 172.5,686.6"/><path d="M48.8,746.2 68.7,751.7 84.2,746.2 93,738.4 101.8,734 128.3,717.5 146,705.3 154.8,703.1 163.6,694.3 172.5,686.6"/><path d="M48.8,751.7 66.5,762.7 75.3,762.7 93,766 106.2,773.8 119.5,783.7 132.7,783.7 146,781.5 163.6,776 181.3,764.9 192.3,755 194.5,749.5 192.3,740.6 199,734 214.4,730.7 221,723 234.3,707.5"/><path d="M47.5,895 60,896 75,887.5 90,881.5 105,884 120,895 150,902.5 163.2,912.4 176.4,942.3 189.6,958.6 216,968.3 249,965 305.1,958.4 328.2,963.3 344.7,961.7 354.6,951.8 381,948.5 427.2,941.9"/></g>
<g fill="none" stroke="#000" stroke-width="4" stroke-linecap="round" stroke-dasharray="15.5 14"><path d="M312 375 L369 431"/><path d="M210 626.5 L291 626"/></g>
<g fill="none" stroke="#000" stroke-width="2.9" stroke-linecap="round" stroke-linejoin="round" stroke-dasharray="15.6 15"><path d="M889,185 487.7,389.4 487.5,873.5"/><path d="M487.7,389.4 374,443 314,624 487.5,626.5"/><path d="M316,632 378.8,812 489.5,876.3 545,942.5 462.3,1130.3"/><path d="M376,814 309,860"/></g>
<g fill="#000"><ellipse cx="217.4" cy="362.4" rx="5.6" ry="5.6"/><ellipse cx="217.4" cy="472.4" rx="5.6" ry="5.6"/><ellipse cx="201.35" cy="550.5" rx="5.5" ry="6.6"/><ellipse cx="183.4" cy="636.5" rx="5.6" ry="5.6"/><ellipse cx="227.4" cy="758.5" rx="5.6" ry="5.6"/><ellipse cx="252.5" cy="823.3" rx="6.6" ry="5.6"/><ellipse cx="316.5" cy="898.4" rx="6.6" ry="5.6"/><ellipse cx="253.5" cy="957.4" rx="6.6" ry="5.6"/><ellipse cx="377.4" cy="320.5" rx="5.6" ry="6.6"/><ellipse cx="476.35" cy="262.5" rx="5.6" ry="6.6"/><ellipse cx="575.4" cy="212.4" rx="5.6" ry="5.6"/><ellipse cx="677.4" cy="140.4" rx="5.6" ry="5.6"/><ellipse cx="844.4" cy="80.4" rx="5.6" ry="5.6"/></g>
<g stroke="#000" stroke-width="1.3" fill="none">
<path d="M48.5 14.7 V1181.5 H890.4"/>
<path d="M98.7 1181.5 V1196"/>
<path d="M211.8 1181.5 V1196"/>
<path d="M324.9 1181.5 V1196"/>
<path d="M438.0 1181.5 V1196"/>
<path d="M551.1 1181.5 V1196"/>
<path d="M664.2 1181.5 V1196"/>
<path d="M777.3 1181.5 V1196"/>
<path d="M33 101.5 H48.5"/>
<path d="M33 214.5 H48.5"/>
<path d="M33 327.5 H48.5"/>
<path d="M33 440.5 H48.5"/>
<path d="M33 553.5 H48.5"/>
<path d="M33 666.5 H48.5"/>
<path d="M33 779.5 H48.5"/>
<path d="M33 892.5 H48.5"/>
<path d="M33 1005.5 H48.5"/>
<path d="M33 1118.5 H48.5"/>
</g>
<text x="98.7" y="1222" font-size="26.8" font-weight="normal" font-style="normal" fill="#000" text-anchor="middle">1750000</text>
<text x="211.8" y="1222" font-size="26.8" font-weight="normal" font-style="normal" fill="#000" text-anchor="middle">1760000</text>
<text x="324.9" y="1222" font-size="26.8" font-weight="normal" font-style="normal" fill="#000" text-anchor="middle">1770000</text>
<text x="438.0" y="1222" font-size="26.8" font-weight="normal" font-style="normal" fill="#000" text-anchor="middle">1780000</text>
<text x="551.1" y="1222" font-size="26.8" font-weight="normal" font-style="normal" fill="#000" text-anchor="middle">1790000</text>
<text x="664.2" y="1222" font-size="26.8" font-weight="normal" font-style="normal" fill="#000" text-anchor="middle">1800000</text>
<text x="777.3" y="1222" font-size="26.8" font-weight="normal" font-style="normal" fill="#000" text-anchor="middle">1810000</text>
<text transform="translate(24.3 101.5) rotate(-90) scale(1 1.06)" x="0" y="0" font-size="26.8" text-anchor="middle">5060000</text>
<text transform="translate(24.3 214.5) rotate(-90) scale(1 1.06)" x="0" y="0" font-size="26.8" text-anchor="middle">5050000</text>
<text transform="translate(24.3 327.5) rotate(-90) scale(1 1.06)" x="0" y="0" font-size="26.8" text-anchor="middle">5040000</text>
<text transform="translate(24.3 440.5) rotate(-90) scale(1 1.06)" x="0" y="0" font-size="26.8" text-anchor="middle">5030000</text>
<text transform="translate(24.3 553.5) rotate(-90) scale(1 1.06)" x="0" y="0" font-size="26.8" text-anchor="middle">5020000</text>
<text transform="translate(24.3 666.5) rotate(-90) scale(1 1.06)" x="0" y="0" font-size="26.8" text-anchor="middle">5010000</text>
<text transform="translate(24.3 779.5) rotate(-90) scale(1 1.06)" x="0" y="0" font-size="26.8" text-anchor="middle">5000000</text>
<text transform="translate(24.3 892.5) rotate(-90) scale(1 1.06)" x="0" y="0" font-size="26.8" text-anchor="middle">4990000</text>
<text transform="translate(24.3 1005.5) rotate(-90) scale(1 1.06)" x="0" y="0" font-size="26.8" text-anchor="middle">4980000</text>
<text transform="translate(24.3 1118.5) rotate(-90) scale(1 1.06)" x="0" y="0" font-size="26.8" text-anchor="middle">4970000</text>
<defs><linearGradient id="cb" x1="0" y1="0" x2="0" y2="1"><stop offset="0.0000" stop-color="#ff0000"/><stop offset="0.1667" stop-color="#ff4000"/><stop offset="0.2667" stop-color="#ff6400"/><stop offset="0.2750" stop-color="#ff7000"/><stop offset="0.2833" stop-color="#ff8800"/><stop offset="0.2833" stop-color="#ff7000"/><stop offset="0.2917" stop-color="#ff9c00"/><stop offset="0.2917" stop-color="#ff8800"/><stop offset="0.3000" stop-color="#ffb400"/><stop offset="0.3000" stop-color="#ff9c00"/><stop offset="0.3083" stop-color="#ffc800"/><stop offset="0.3083" stop-color="#ffb400"/><stop offset="0.3167" stop-color="#ffdc00"/><stop offset="0.3167" stop-color="#ffc800"/><stop offset="0.3250" stop-color="#fff000"/><stop offset="0.3250" stop-color="#ffdc00"/><stop offset="0.3333" stop-color="#fff000"/><stop offset="0.3333" stop-color="#ffff00"/><stop offset="0.3333" stop-color="#ffff00"/><stop offset="0.4550" stop-color="#ffff00"/><stop offset="0.4617" stop-color="#f0ff00"/><stop offset="0.4783" stop-color="#d8ff00"/><stop offset="0.4900" stop-color="#c0ff00"/><stop offset="0.5000" stop-color="#a8ff00"/><stop offset="0.5100" stop-color="#98ff00"/><stop offset="0.5267" stop-color="#90f808"/><stop offset="0.5417" stop-color="#88f010"/><stop offset="0.5833" stop-color="#68e034"/><stop offset="0.6167" stop-color="#50d850"/><stop offset="0.6417" stop-color="#40c868"/><stop offset="0.6550" stop-color="#40bc80"/><stop offset="0.6667" stop-color="#48b0a0"/><stop offset="0.6800" stop-color="#50a8c0"/><stop offset="0.6917" stop-color="#5898e8"/><stop offset="0.7083" stop-color="#6496f8"/><stop offset="0.7583" stop-color="#5080e8"/><stop offset="0.8333" stop-color="#3a68d6"/><stop offset="1.0000" stop-color="#003399"/></linearGradient></defs>
<rect x="618.6" y="364.3" width="37.1" height="597.2" fill="url(#cb)" stroke="#000" stroke-width="1.3"/>
<g stroke="#000" stroke-width="1.3"><path d="M655.7 364.3 H667.5"/><path d="M655.7 463.8 H667.5"/><path d="M655.7 563.4 H667.5"/><path d="M655.7 662.9 H667.5"/><path d="M655.7 762.4 H667.5"/><path d="M655.7 862.0 H667.5"/><path d="M655.7 961.5 H667.5"/></g>
<text transform="translate(675 371.9) scale(0.93 1)" font-size="25">8</text>
<text transform="translate(675 471.4) scale(0.93 1)" font-size="25">7</text>
<text transform="translate(675 571.0) scale(0.93 1)" font-size="25">6</text>
<text transform="translate(675 670.5) scale(0.93 1)" font-size="25">5</text>
<text transform="translate(675 770.0) scale(0.93 1)" font-size="25">4</text>
<text transform="translate(675 869.6) scale(0.93 1)" font-size="25">3</text>
<text transform="translate(675 969.1) scale(0.93 1)" font-size="25">2</text>
<g stroke="#000" stroke-width="1.3"><path d="M701.3 367 H832"/><path d="M708.7 569.6 H835.7"/><path d="M711.4 670.3 H835.7"/><path d="M708.7 769.3 H835.7"/><path d="M713 959.4 H838"/></g>
<text x="722.0" y="475.3" font-size="24.5" font-weight="normal" font-style="normal" fill="#000" text-anchor="start" textLength="108.0" lengthAdjust="spacingAndGlyphs">Scadente</text>
<text x="717.0" y="627.0" font-size="24.5" font-weight="normal" font-style="normal" fill="#000" text-anchor="start" textLength="107.0" lengthAdjust="spacingAndGlyphs">Mediocre</text>
<text x="736.0" y="729.5" font-size="24.5" font-weight="normal" font-style="normal" fill="#000" text-anchor="start" textLength="75.0" lengthAdjust="spacingAndGlyphs">Buono</text>
<text x="736.0" y="874.4" font-size="24.5" font-weight="normal" font-style="normal" fill="#000" text-anchor="start" textLength="82.0" lengthAdjust="spacingAndGlyphs">Elevato</text>
<defs><linearGradient id="rl" x1="0" y1="0" x2="0" y2="1"><stop offset="0" stop-color="#4cb0c8"/><stop offset="1" stop-color="#50d860"/></linearGradient><linearGradient id="rl2" x1="0" y1="0" x2="0" y2="1"><stop offset="0" stop-color="#40d040"/><stop offset="1" stop-color="#80f000"/></linearGradient></defs>
<rect x="888" y="185" width="1.2" height="497" fill="url(#rl)"/>
<rect x="887" y="682" width="2" height="439" fill="url(#rl2)"/>
<text x="75.7" y="50.8" font-size="30" font-weight="normal" font-style="normal" fill="#000" text-anchor="start" textLength="139.7" lengthAdjust="spacingAndGlyphs">TRIX 2019</text>
<text x="578.6" y="31.4" font-size="16.7" font-weight="normal" font-style="italic" fill="#404040" text-anchor="start" textLength="57.6" lengthAdjust="spacingAndGlyphs">Livenza</text>
<text x="774" y="22.6" font-size="16.7" font-weight="normal" font-style="italic" fill="#404040" text-anchor="start" textLength="89" lengthAdjust="spacingAndGlyphs">Tagliamento</text>
<text x="440.7" y="134.0" font-size="16.7" font-weight="normal" font-style="italic" fill="#404040" text-anchor="start" textLength="43.7" lengthAdjust="spacingAndGlyphs">Piave</text>
<text x="423.8" y="182.4" font-size="16.7" font-weight="normal" font-style="italic" fill="#404040" text-anchor="start" textLength="28.2" lengthAdjust="spacingAndGlyphs">Sile</text>
<text x="591.2" y="125.0" font-size="17.6" font-weight="normal" font-style="normal" fill="#000" text-anchor="start" textLength="56.7" lengthAdjust="spacingAndGlyphs">Caorle</text>
<text x="765.3" y="79.5" font-size="17.6" font-weight="normal" font-style="normal" fill="#000" text-anchor="start" textLength="63.2" lengthAdjust="spacingAndGlyphs">Bibione</text>
<text x="491.0" y="195.2" font-size="17.6" font-weight="normal" font-style="normal" fill="#000" text-anchor="start" textLength="69.8" lengthAdjust="spacingAndGlyphs">Eralclea</text>
<text x="404.1" y="247.1" font-size="17.6" font-weight="normal" font-style="normal" fill="#000" text-anchor="start" textLength="55.6" lengthAdjust="spacingAndGlyphs">Jesolo</text>
<text x="234.8" y="304" font-size="18.6" font-weight="normal" font-style="normal" fill="#000" text-anchor="start" textLength="146.7" lengthAdjust="spacingAndGlyphs">Cavallino Treporti</text>
<text x="158.0" y="347.0" font-size="18" font-weight="bold" font-style="normal" fill="#000" text-anchor="start" textLength="81.0" lengthAdjust="spacingAndGlyphs">VENEZIA</text>
<text x="132.6" y="462.9" font-size="18" font-weight="bold" font-style="normal" fill="#000" text-anchor="start" textLength="79.0" lengthAdjust="spacingAndGlyphs">Alberoni</text>
<text x="98.6" y="541.4" font-size="18" font-weight="bold" font-style="normal" fill="#000" text-anchor="start" textLength="95.4" lengthAdjust="spacingAndGlyphs">Pellestrina</text>
<text x="100.3" y="627" font-size="18" font-weight="bold" font-style="normal" fill="#000" text-anchor="start" textLength="76.7" lengthAdjust="spacingAndGlyphs">Chioggia</text>
<text x="58.7" y="704.7" font-size="16.7" font-weight="normal" font-style="italic" fill="#404040" text-anchor="start" textLength="147.2" lengthAdjust="spacingAndGlyphs">Brenta-Bacchiglione</text>
<text x="94.5" y="760.7" font-size="16.7" font-weight="normal" font-style="italic" fill="#404040" text-anchor="start" textLength="41.5" lengthAdjust="spacingAndGlyphs">Adige</text>
<text x="144.2" y="741.2" font-size="18" font-weight="normal" font-style="normal" fill="#000" text-anchor="start" textLength="73.0" lengthAdjust="spacingAndGlyphs">Rosolina</text>
<text x="163.0" y="821.0" font-size="18" font-weight="normal" font-style="normal" fill="#000" text-anchor="start" textLength="73.4" lengthAdjust="spacingAndGlyphs">Albarella</text>
<text x="168.0" y="991.7" font-size="18" font-weight="normal" font-style="normal" fill="#000" text-anchor="start" textLength="93.6" lengthAdjust="spacingAndGlyphs">Porto Tolle</text>
<text x="299.3" y="989.1" font-size="16.7" font-weight="normal" font-style="italic" fill="#404040" text-anchor="start" textLength="22.9" lengthAdjust="spacingAndGlyphs">Po</text>
<text x="674.0" y="220.0" font-size="24.5" font-weight="bold" font-style="normal" fill="#000" text-anchor="start" textLength="82.0" lengthAdjust="spacingAndGlyphs">CE 1_1</text>
<text x="248.4" y="527.6" font-size="24.5" font-weight="bold" font-style="normal" fill="#000" text-anchor="start" textLength="85.6" lengthAdjust="spacingAndGlyphs">CE 1_2</text>
<text x="371.6" y="565.0" font-size="24.5" font-weight="bold" font-style="normal" fill="#000" text-anchor="start" textLength="78.0" lengthAdjust="spacingAndGlyphs">ME2_1</text>
<text x="243.1" y="711.9" font-size="24.5" font-weight="bold" font-style="normal" fill="#000" text-anchor="start" textLength="83.1" lengthAdjust="spacingAndGlyphs">CE 1_3</text>
<text x="381.6" y="714.7" font-size="24.5" font-weight="bold" font-style="normal" fill="#000" text-anchor="start" textLength="81.6" lengthAdjust="spacingAndGlyphs">ME2_2</text>
<text x="437.0" y="951.2" font-size="24.5" font-weight="bold" font-style="normal" fill="#000" text-anchor="start" textLength="84.6" lengthAdjust="spacingAndGlyphs">CE 1_4</text>
<g stroke="#000" fill="none"><path d="M94.55 167 V210" stroke-width="2.8"/><path d="M87.7 182.6 L94.5 168.6 L101.3 182.6" stroke-width="2"/><path d="M85.1 206 V185.3 M85.1 185.8 L104.1 205 M104.1 206 V185.3" stroke-width="2"/></g></svg>
</body></html>
